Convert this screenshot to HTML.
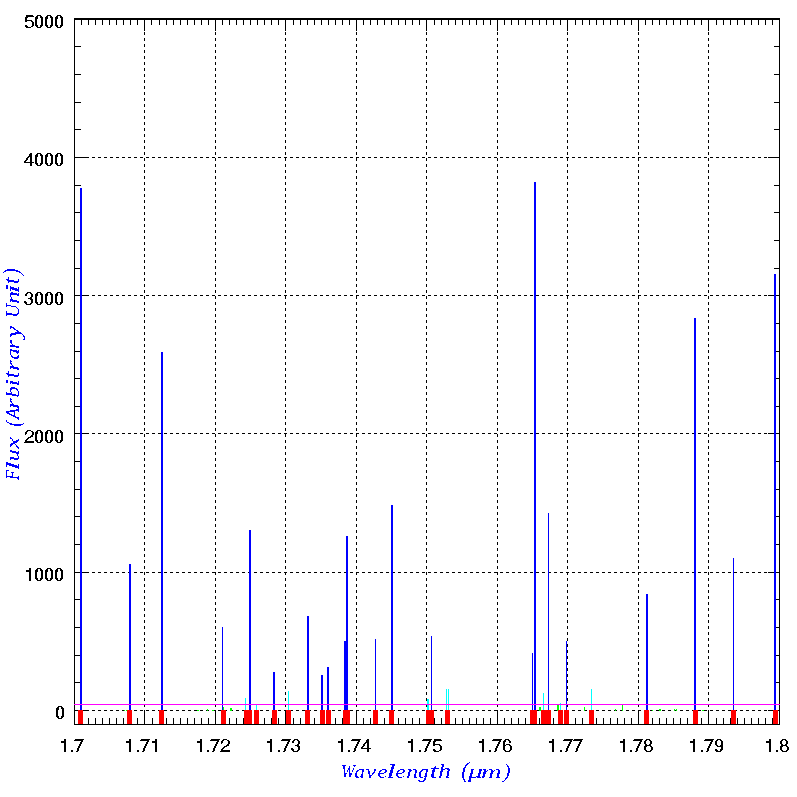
<!DOCTYPE html>
<html><head><meta charset="utf-8"><style>
html,body{margin:0;padding:0;background:#fff;}
svg{display:block;}
</style></head><body>
<svg width="797" height="797" viewBox="0 0 797 797">
<defs><filter id="bin" x="0" y="0" width="797" height="797" filterUnits="userSpaceOnUse"><feComponentTransfer><feFuncA type="discrete" tableValues="0 1 1 1"/></feComponentTransfer></filter>
<filter id="bin2" x="0" y="0" width="797" height="797" filterUnits="userSpaceOnUse"><feComponentTransfer><feFuncA type="discrete" tableValues="0 1"/></feComponentTransfer></filter></defs>
<rect x="0" y="0" width="797" height="797" fill="#fff"/>
<g shape-rendering="crispEdges">
<rect x="74" y="572" width="3" height="1" fill="#000"/><rect x="80" y="572" width="3" height="1" fill="#000"/><rect x="86" y="572" width="3" height="1" fill="#000"/><rect x="92" y="572" width="3" height="1" fill="#000"/><rect x="98" y="572" width="3" height="1" fill="#000"/><rect x="104" y="572" width="3" height="1" fill="#000"/><rect x="110" y="572" width="3" height="1" fill="#000"/><rect x="116" y="572" width="3" height="1" fill="#000"/><rect x="122" y="572" width="3" height="1" fill="#000"/><rect x="128" y="572" width="3" height="1" fill="#000"/><rect x="134" y="572" width="3" height="1" fill="#000"/><rect x="140" y="572" width="3" height="1" fill="#000"/><rect x="146" y="572" width="3" height="1" fill="#000"/><rect x="152" y="572" width="3" height="1" fill="#000"/><rect x="158" y="572" width="3" height="1" fill="#000"/><rect x="164" y="572" width="3" height="1" fill="#000"/><rect x="170" y="572" width="3" height="1" fill="#000"/><rect x="176" y="572" width="3" height="1" fill="#000"/><rect x="182" y="572" width="3" height="1" fill="#000"/><rect x="188" y="572" width="3" height="1" fill="#000"/><rect x="194" y="572" width="3" height="1" fill="#000"/><rect x="200" y="572" width="3" height="1" fill="#000"/><rect x="206" y="572" width="3" height="1" fill="#000"/><rect x="212" y="572" width="3" height="1" fill="#000"/><rect x="218" y="572" width="3" height="1" fill="#000"/><rect x="224" y="572" width="3" height="1" fill="#000"/><rect x="230" y="572" width="3" height="1" fill="#000"/><rect x="236" y="572" width="3" height="1" fill="#000"/><rect x="242" y="572" width="3" height="1" fill="#000"/><rect x="248" y="572" width="3" height="1" fill="#000"/><rect x="254" y="572" width="3" height="1" fill="#000"/><rect x="260" y="572" width="3" height="1" fill="#000"/><rect x="266" y="572" width="3" height="1" fill="#000"/><rect x="272" y="572" width="3" height="1" fill="#000"/><rect x="278" y="572" width="3" height="1" fill="#000"/><rect x="284" y="572" width="3" height="1" fill="#000"/><rect x="290" y="572" width="3" height="1" fill="#000"/><rect x="296" y="572" width="3" height="1" fill="#000"/><rect x="302" y="572" width="3" height="1" fill="#000"/><rect x="308" y="572" width="3" height="1" fill="#000"/><rect x="314" y="572" width="3" height="1" fill="#000"/><rect x="320" y="572" width="3" height="1" fill="#000"/><rect x="326" y="572" width="3" height="1" fill="#000"/><rect x="332" y="572" width="3" height="1" fill="#000"/><rect x="338" y="572" width="3" height="1" fill="#000"/><rect x="344" y="572" width="3" height="1" fill="#000"/><rect x="350" y="572" width="3" height="1" fill="#000"/><rect x="356" y="572" width="3" height="1" fill="#000"/><rect x="362" y="572" width="3" height="1" fill="#000"/><rect x="368" y="572" width="3" height="1" fill="#000"/><rect x="374" y="572" width="3" height="1" fill="#000"/><rect x="380" y="572" width="3" height="1" fill="#000"/><rect x="386" y="572" width="3" height="1" fill="#000"/><rect x="392" y="572" width="3" height="1" fill="#000"/><rect x="398" y="572" width="3" height="1" fill="#000"/><rect x="404" y="572" width="3" height="1" fill="#000"/><rect x="410" y="572" width="3" height="1" fill="#000"/><rect x="416" y="572" width="3" height="1" fill="#000"/><rect x="422" y="572" width="3" height="1" fill="#000"/><rect x="428" y="572" width="3" height="1" fill="#000"/><rect x="434" y="572" width="3" height="1" fill="#000"/><rect x="440" y="572" width="3" height="1" fill="#000"/><rect x="446" y="572" width="3" height="1" fill="#000"/><rect x="452" y="572" width="3" height="1" fill="#000"/><rect x="458" y="572" width="3" height="1" fill="#000"/><rect x="464" y="572" width="3" height="1" fill="#000"/><rect x="470" y="572" width="3" height="1" fill="#000"/><rect x="476" y="572" width="3" height="1" fill="#000"/><rect x="482" y="572" width="3" height="1" fill="#000"/><rect x="488" y="572" width="3" height="1" fill="#000"/><rect x="494" y="572" width="3" height="1" fill="#000"/><rect x="500" y="572" width="3" height="1" fill="#000"/><rect x="506" y="572" width="3" height="1" fill="#000"/><rect x="512" y="572" width="3" height="1" fill="#000"/><rect x="518" y="572" width="3" height="1" fill="#000"/><rect x="524" y="572" width="3" height="1" fill="#000"/><rect x="530" y="572" width="3" height="1" fill="#000"/><rect x="536" y="572" width="3" height="1" fill="#000"/><rect x="542" y="572" width="3" height="1" fill="#000"/><rect x="548" y="572" width="3" height="1" fill="#000"/><rect x="554" y="572" width="3" height="1" fill="#000"/><rect x="560" y="572" width="3" height="1" fill="#000"/><rect x="566" y="572" width="3" height="1" fill="#000"/><rect x="572" y="572" width="3" height="1" fill="#000"/><rect x="578" y="572" width="3" height="1" fill="#000"/><rect x="584" y="572" width="3" height="1" fill="#000"/><rect x="590" y="572" width="3" height="1" fill="#000"/><rect x="596" y="572" width="3" height="1" fill="#000"/><rect x="602" y="572" width="3" height="1" fill="#000"/><rect x="608" y="572" width="3" height="1" fill="#000"/><rect x="614" y="572" width="3" height="1" fill="#000"/><rect x="620" y="572" width="3" height="1" fill="#000"/><rect x="626" y="572" width="3" height="1" fill="#000"/><rect x="632" y="572" width="3" height="1" fill="#000"/><rect x="638" y="572" width="3" height="1" fill="#000"/><rect x="644" y="572" width="3" height="1" fill="#000"/><rect x="650" y="572" width="3" height="1" fill="#000"/><rect x="656" y="572" width="3" height="1" fill="#000"/><rect x="662" y="572" width="3" height="1" fill="#000"/><rect x="668" y="572" width="3" height="1" fill="#000"/><rect x="674" y="572" width="3" height="1" fill="#000"/><rect x="680" y="572" width="3" height="1" fill="#000"/><rect x="686" y="572" width="3" height="1" fill="#000"/><rect x="692" y="572" width="3" height="1" fill="#000"/><rect x="698" y="572" width="3" height="1" fill="#000"/><rect x="704" y="572" width="3" height="1" fill="#000"/><rect x="710" y="572" width="3" height="1" fill="#000"/><rect x="716" y="572" width="3" height="1" fill="#000"/><rect x="722" y="572" width="3" height="1" fill="#000"/><rect x="728" y="572" width="3" height="1" fill="#000"/><rect x="734" y="572" width="3" height="1" fill="#000"/><rect x="740" y="572" width="3" height="1" fill="#000"/><rect x="746" y="572" width="3" height="1" fill="#000"/><rect x="752" y="572" width="3" height="1" fill="#000"/><rect x="758" y="572" width="3" height="1" fill="#000"/><rect x="764" y="572" width="3" height="1" fill="#000"/><rect x="770" y="572" width="3" height="1" fill="#000"/><rect x="776" y="572" width="3" height="1" fill="#000"/><rect x="74" y="433" width="3" height="1" fill="#000"/><rect x="80" y="433" width="3" height="1" fill="#000"/><rect x="86" y="433" width="3" height="1" fill="#000"/><rect x="92" y="433" width="3" height="1" fill="#000"/><rect x="98" y="433" width="3" height="1" fill="#000"/><rect x="104" y="433" width="3" height="1" fill="#000"/><rect x="110" y="433" width="3" height="1" fill="#000"/><rect x="116" y="433" width="3" height="1" fill="#000"/><rect x="122" y="433" width="3" height="1" fill="#000"/><rect x="128" y="433" width="3" height="1" fill="#000"/><rect x="134" y="433" width="3" height="1" fill="#000"/><rect x="140" y="433" width="3" height="1" fill="#000"/><rect x="146" y="433" width="3" height="1" fill="#000"/><rect x="152" y="433" width="3" height="1" fill="#000"/><rect x="158" y="433" width="3" height="1" fill="#000"/><rect x="164" y="433" width="3" height="1" fill="#000"/><rect x="170" y="433" width="3" height="1" fill="#000"/><rect x="176" y="433" width="3" height="1" fill="#000"/><rect x="182" y="433" width="3" height="1" fill="#000"/><rect x="188" y="433" width="3" height="1" fill="#000"/><rect x="194" y="433" width="3" height="1" fill="#000"/><rect x="200" y="433" width="3" height="1" fill="#000"/><rect x="206" y="433" width="3" height="1" fill="#000"/><rect x="212" y="433" width="3" height="1" fill="#000"/><rect x="218" y="433" width="3" height="1" fill="#000"/><rect x="224" y="433" width="3" height="1" fill="#000"/><rect x="230" y="433" width="3" height="1" fill="#000"/><rect x="236" y="433" width="3" height="1" fill="#000"/><rect x="242" y="433" width="3" height="1" fill="#000"/><rect x="248" y="433" width="3" height="1" fill="#000"/><rect x="254" y="433" width="3" height="1" fill="#000"/><rect x="260" y="433" width="3" height="1" fill="#000"/><rect x="266" y="433" width="3" height="1" fill="#000"/><rect x="272" y="433" width="3" height="1" fill="#000"/><rect x="278" y="433" width="3" height="1" fill="#000"/><rect x="284" y="433" width="3" height="1" fill="#000"/><rect x="290" y="433" width="3" height="1" fill="#000"/><rect x="296" y="433" width="3" height="1" fill="#000"/><rect x="302" y="433" width="3" height="1" fill="#000"/><rect x="308" y="433" width="3" height="1" fill="#000"/><rect x="314" y="433" width="3" height="1" fill="#000"/><rect x="320" y="433" width="3" height="1" fill="#000"/><rect x="326" y="433" width="3" height="1" fill="#000"/><rect x="332" y="433" width="3" height="1" fill="#000"/><rect x="338" y="433" width="3" height="1" fill="#000"/><rect x="344" y="433" width="3" height="1" fill="#000"/><rect x="350" y="433" width="3" height="1" fill="#000"/><rect x="356" y="433" width="3" height="1" fill="#000"/><rect x="362" y="433" width="3" height="1" fill="#000"/><rect x="368" y="433" width="3" height="1" fill="#000"/><rect x="374" y="433" width="3" height="1" fill="#000"/><rect x="380" y="433" width="3" height="1" fill="#000"/><rect x="386" y="433" width="3" height="1" fill="#000"/><rect x="392" y="433" width="3" height="1" fill="#000"/><rect x="398" y="433" width="3" height="1" fill="#000"/><rect x="404" y="433" width="3" height="1" fill="#000"/><rect x="410" y="433" width="3" height="1" fill="#000"/><rect x="416" y="433" width="3" height="1" fill="#000"/><rect x="422" y="433" width="3" height="1" fill="#000"/><rect x="428" y="433" width="3" height="1" fill="#000"/><rect x="434" y="433" width="3" height="1" fill="#000"/><rect x="440" y="433" width="3" height="1" fill="#000"/><rect x="446" y="433" width="3" height="1" fill="#000"/><rect x="452" y="433" width="3" height="1" fill="#000"/><rect x="458" y="433" width="3" height="1" fill="#000"/><rect x="464" y="433" width="3" height="1" fill="#000"/><rect x="470" y="433" width="3" height="1" fill="#000"/><rect x="476" y="433" width="3" height="1" fill="#000"/><rect x="482" y="433" width="3" height="1" fill="#000"/><rect x="488" y="433" width="3" height="1" fill="#000"/><rect x="494" y="433" width="3" height="1" fill="#000"/><rect x="500" y="433" width="3" height="1" fill="#000"/><rect x="506" y="433" width="3" height="1" fill="#000"/><rect x="512" y="433" width="3" height="1" fill="#000"/><rect x="518" y="433" width="3" height="1" fill="#000"/><rect x="524" y="433" width="3" height="1" fill="#000"/><rect x="530" y="433" width="3" height="1" fill="#000"/><rect x="536" y="433" width="3" height="1" fill="#000"/><rect x="542" y="433" width="3" height="1" fill="#000"/><rect x="548" y="433" width="3" height="1" fill="#000"/><rect x="554" y="433" width="3" height="1" fill="#000"/><rect x="560" y="433" width="3" height="1" fill="#000"/><rect x="566" y="433" width="3" height="1" fill="#000"/><rect x="572" y="433" width="3" height="1" fill="#000"/><rect x="578" y="433" width="3" height="1" fill="#000"/><rect x="584" y="433" width="3" height="1" fill="#000"/><rect x="590" y="433" width="3" height="1" fill="#000"/><rect x="596" y="433" width="3" height="1" fill="#000"/><rect x="602" y="433" width="3" height="1" fill="#000"/><rect x="608" y="433" width="3" height="1" fill="#000"/><rect x="614" y="433" width="3" height="1" fill="#000"/><rect x="620" y="433" width="3" height="1" fill="#000"/><rect x="626" y="433" width="3" height="1" fill="#000"/><rect x="632" y="433" width="3" height="1" fill="#000"/><rect x="638" y="433" width="3" height="1" fill="#000"/><rect x="644" y="433" width="3" height="1" fill="#000"/><rect x="650" y="433" width="3" height="1" fill="#000"/><rect x="656" y="433" width="3" height="1" fill="#000"/><rect x="662" y="433" width="3" height="1" fill="#000"/><rect x="668" y="433" width="3" height="1" fill="#000"/><rect x="674" y="433" width="3" height="1" fill="#000"/><rect x="680" y="433" width="3" height="1" fill="#000"/><rect x="686" y="433" width="3" height="1" fill="#000"/><rect x="692" y="433" width="3" height="1" fill="#000"/><rect x="698" y="433" width="3" height="1" fill="#000"/><rect x="704" y="433" width="3" height="1" fill="#000"/><rect x="710" y="433" width="3" height="1" fill="#000"/><rect x="716" y="433" width="3" height="1" fill="#000"/><rect x="722" y="433" width="3" height="1" fill="#000"/><rect x="728" y="433" width="3" height="1" fill="#000"/><rect x="734" y="433" width="3" height="1" fill="#000"/><rect x="740" y="433" width="3" height="1" fill="#000"/><rect x="746" y="433" width="3" height="1" fill="#000"/><rect x="752" y="433" width="3" height="1" fill="#000"/><rect x="758" y="433" width="3" height="1" fill="#000"/><rect x="764" y="433" width="3" height="1" fill="#000"/><rect x="770" y="433" width="3" height="1" fill="#000"/><rect x="776" y="433" width="3" height="1" fill="#000"/><rect x="74" y="295" width="3" height="1" fill="#000"/><rect x="80" y="295" width="3" height="1" fill="#000"/><rect x="86" y="295" width="3" height="1" fill="#000"/><rect x="92" y="295" width="3" height="1" fill="#000"/><rect x="98" y="295" width="3" height="1" fill="#000"/><rect x="104" y="295" width="3" height="1" fill="#000"/><rect x="110" y="295" width="3" height="1" fill="#000"/><rect x="116" y="295" width="3" height="1" fill="#000"/><rect x="122" y="295" width="3" height="1" fill="#000"/><rect x="128" y="295" width="3" height="1" fill="#000"/><rect x="134" y="295" width="3" height="1" fill="#000"/><rect x="140" y="295" width="3" height="1" fill="#000"/><rect x="146" y="295" width="3" height="1" fill="#000"/><rect x="152" y="295" width="3" height="1" fill="#000"/><rect x="158" y="295" width="3" height="1" fill="#000"/><rect x="164" y="295" width="3" height="1" fill="#000"/><rect x="170" y="295" width="3" height="1" fill="#000"/><rect x="176" y="295" width="3" height="1" fill="#000"/><rect x="182" y="295" width="3" height="1" fill="#000"/><rect x="188" y="295" width="3" height="1" fill="#000"/><rect x="194" y="295" width="3" height="1" fill="#000"/><rect x="200" y="295" width="3" height="1" fill="#000"/><rect x="206" y="295" width="3" height="1" fill="#000"/><rect x="212" y="295" width="3" height="1" fill="#000"/><rect x="218" y="295" width="3" height="1" fill="#000"/><rect x="224" y="295" width="3" height="1" fill="#000"/><rect x="230" y="295" width="3" height="1" fill="#000"/><rect x="236" y="295" width="3" height="1" fill="#000"/><rect x="242" y="295" width="3" height="1" fill="#000"/><rect x="248" y="295" width="3" height="1" fill="#000"/><rect x="254" y="295" width="3" height="1" fill="#000"/><rect x="260" y="295" width="3" height="1" fill="#000"/><rect x="266" y="295" width="3" height="1" fill="#000"/><rect x="272" y="295" width="3" height="1" fill="#000"/><rect x="278" y="295" width="3" height="1" fill="#000"/><rect x="284" y="295" width="3" height="1" fill="#000"/><rect x="290" y="295" width="3" height="1" fill="#000"/><rect x="296" y="295" width="3" height="1" fill="#000"/><rect x="302" y="295" width="3" height="1" fill="#000"/><rect x="308" y="295" width="3" height="1" fill="#000"/><rect x="314" y="295" width="3" height="1" fill="#000"/><rect x="320" y="295" width="3" height="1" fill="#000"/><rect x="326" y="295" width="3" height="1" fill="#000"/><rect x="332" y="295" width="3" height="1" fill="#000"/><rect x="338" y="295" width="3" height="1" fill="#000"/><rect x="344" y="295" width="3" height="1" fill="#000"/><rect x="350" y="295" width="3" height="1" fill="#000"/><rect x="356" y="295" width="3" height="1" fill="#000"/><rect x="362" y="295" width="3" height="1" fill="#000"/><rect x="368" y="295" width="3" height="1" fill="#000"/><rect x="374" y="295" width="3" height="1" fill="#000"/><rect x="380" y="295" width="3" height="1" fill="#000"/><rect x="386" y="295" width="3" height="1" fill="#000"/><rect x="392" y="295" width="3" height="1" fill="#000"/><rect x="398" y="295" width="3" height="1" fill="#000"/><rect x="404" y="295" width="3" height="1" fill="#000"/><rect x="410" y="295" width="3" height="1" fill="#000"/><rect x="416" y="295" width="3" height="1" fill="#000"/><rect x="422" y="295" width="3" height="1" fill="#000"/><rect x="428" y="295" width="3" height="1" fill="#000"/><rect x="434" y="295" width="3" height="1" fill="#000"/><rect x="440" y="295" width="3" height="1" fill="#000"/><rect x="446" y="295" width="3" height="1" fill="#000"/><rect x="452" y="295" width="3" height="1" fill="#000"/><rect x="458" y="295" width="3" height="1" fill="#000"/><rect x="464" y="295" width="3" height="1" fill="#000"/><rect x="470" y="295" width="3" height="1" fill="#000"/><rect x="476" y="295" width="3" height="1" fill="#000"/><rect x="482" y="295" width="3" height="1" fill="#000"/><rect x="488" y="295" width="3" height="1" fill="#000"/><rect x="494" y="295" width="3" height="1" fill="#000"/><rect x="500" y="295" width="3" height="1" fill="#000"/><rect x="506" y="295" width="3" height="1" fill="#000"/><rect x="512" y="295" width="3" height="1" fill="#000"/><rect x="518" y="295" width="3" height="1" fill="#000"/><rect x="524" y="295" width="3" height="1" fill="#000"/><rect x="530" y="295" width="3" height="1" fill="#000"/><rect x="536" y="295" width="3" height="1" fill="#000"/><rect x="542" y="295" width="3" height="1" fill="#000"/><rect x="548" y="295" width="3" height="1" fill="#000"/><rect x="554" y="295" width="3" height="1" fill="#000"/><rect x="560" y="295" width="3" height="1" fill="#000"/><rect x="566" y="295" width="3" height="1" fill="#000"/><rect x="572" y="295" width="3" height="1" fill="#000"/><rect x="578" y="295" width="3" height="1" fill="#000"/><rect x="584" y="295" width="3" height="1" fill="#000"/><rect x="590" y="295" width="3" height="1" fill="#000"/><rect x="596" y="295" width="3" height="1" fill="#000"/><rect x="602" y="295" width="3" height="1" fill="#000"/><rect x="608" y="295" width="3" height="1" fill="#000"/><rect x="614" y="295" width="3" height="1" fill="#000"/><rect x="620" y="295" width="3" height="1" fill="#000"/><rect x="626" y="295" width="3" height="1" fill="#000"/><rect x="632" y="295" width="3" height="1" fill="#000"/><rect x="638" y="295" width="3" height="1" fill="#000"/><rect x="644" y="295" width="3" height="1" fill="#000"/><rect x="650" y="295" width="3" height="1" fill="#000"/><rect x="656" y="295" width="3" height="1" fill="#000"/><rect x="662" y="295" width="3" height="1" fill="#000"/><rect x="668" y="295" width="3" height="1" fill="#000"/><rect x="674" y="295" width="3" height="1" fill="#000"/><rect x="680" y="295" width="3" height="1" fill="#000"/><rect x="686" y="295" width="3" height="1" fill="#000"/><rect x="692" y="295" width="3" height="1" fill="#000"/><rect x="698" y="295" width="3" height="1" fill="#000"/><rect x="704" y="295" width="3" height="1" fill="#000"/><rect x="710" y="295" width="3" height="1" fill="#000"/><rect x="716" y="295" width="3" height="1" fill="#000"/><rect x="722" y="295" width="3" height="1" fill="#000"/><rect x="728" y="295" width="3" height="1" fill="#000"/><rect x="734" y="295" width="3" height="1" fill="#000"/><rect x="740" y="295" width="3" height="1" fill="#000"/><rect x="746" y="295" width="3" height="1" fill="#000"/><rect x="752" y="295" width="3" height="1" fill="#000"/><rect x="758" y="295" width="3" height="1" fill="#000"/><rect x="764" y="295" width="3" height="1" fill="#000"/><rect x="770" y="295" width="3" height="1" fill="#000"/><rect x="776" y="295" width="3" height="1" fill="#000"/><rect x="74" y="157" width="3" height="1" fill="#000"/><rect x="80" y="157" width="3" height="1" fill="#000"/><rect x="86" y="157" width="3" height="1" fill="#000"/><rect x="92" y="157" width="3" height="1" fill="#000"/><rect x="98" y="157" width="3" height="1" fill="#000"/><rect x="104" y="157" width="3" height="1" fill="#000"/><rect x="110" y="157" width="3" height="1" fill="#000"/><rect x="116" y="157" width="3" height="1" fill="#000"/><rect x="122" y="157" width="3" height="1" fill="#000"/><rect x="128" y="157" width="3" height="1" fill="#000"/><rect x="134" y="157" width="3" height="1" fill="#000"/><rect x="140" y="157" width="3" height="1" fill="#000"/><rect x="146" y="157" width="3" height="1" fill="#000"/><rect x="152" y="157" width="3" height="1" fill="#000"/><rect x="158" y="157" width="3" height="1" fill="#000"/><rect x="164" y="157" width="3" height="1" fill="#000"/><rect x="170" y="157" width="3" height="1" fill="#000"/><rect x="176" y="157" width="3" height="1" fill="#000"/><rect x="182" y="157" width="3" height="1" fill="#000"/><rect x="188" y="157" width="3" height="1" fill="#000"/><rect x="194" y="157" width="3" height="1" fill="#000"/><rect x="200" y="157" width="3" height="1" fill="#000"/><rect x="206" y="157" width="3" height="1" fill="#000"/><rect x="212" y="157" width="3" height="1" fill="#000"/><rect x="218" y="157" width="3" height="1" fill="#000"/><rect x="224" y="157" width="3" height="1" fill="#000"/><rect x="230" y="157" width="3" height="1" fill="#000"/><rect x="236" y="157" width="3" height="1" fill="#000"/><rect x="242" y="157" width="3" height="1" fill="#000"/><rect x="248" y="157" width="3" height="1" fill="#000"/><rect x="254" y="157" width="3" height="1" fill="#000"/><rect x="260" y="157" width="3" height="1" fill="#000"/><rect x="266" y="157" width="3" height="1" fill="#000"/><rect x="272" y="157" width="3" height="1" fill="#000"/><rect x="278" y="157" width="3" height="1" fill="#000"/><rect x="284" y="157" width="3" height="1" fill="#000"/><rect x="290" y="157" width="3" height="1" fill="#000"/><rect x="296" y="157" width="3" height="1" fill="#000"/><rect x="302" y="157" width="3" height="1" fill="#000"/><rect x="308" y="157" width="3" height="1" fill="#000"/><rect x="314" y="157" width="3" height="1" fill="#000"/><rect x="320" y="157" width="3" height="1" fill="#000"/><rect x="326" y="157" width="3" height="1" fill="#000"/><rect x="332" y="157" width="3" height="1" fill="#000"/><rect x="338" y="157" width="3" height="1" fill="#000"/><rect x="344" y="157" width="3" height="1" fill="#000"/><rect x="350" y="157" width="3" height="1" fill="#000"/><rect x="356" y="157" width="3" height="1" fill="#000"/><rect x="362" y="157" width="3" height="1" fill="#000"/><rect x="368" y="157" width="3" height="1" fill="#000"/><rect x="374" y="157" width="3" height="1" fill="#000"/><rect x="380" y="157" width="3" height="1" fill="#000"/><rect x="386" y="157" width="3" height="1" fill="#000"/><rect x="392" y="157" width="3" height="1" fill="#000"/><rect x="398" y="157" width="3" height="1" fill="#000"/><rect x="404" y="157" width="3" height="1" fill="#000"/><rect x="410" y="157" width="3" height="1" fill="#000"/><rect x="416" y="157" width="3" height="1" fill="#000"/><rect x="422" y="157" width="3" height="1" fill="#000"/><rect x="428" y="157" width="3" height="1" fill="#000"/><rect x="434" y="157" width="3" height="1" fill="#000"/><rect x="440" y="157" width="3" height="1" fill="#000"/><rect x="446" y="157" width="3" height="1" fill="#000"/><rect x="452" y="157" width="3" height="1" fill="#000"/><rect x="458" y="157" width="3" height="1" fill="#000"/><rect x="464" y="157" width="3" height="1" fill="#000"/><rect x="470" y="157" width="3" height="1" fill="#000"/><rect x="476" y="157" width="3" height="1" fill="#000"/><rect x="482" y="157" width="3" height="1" fill="#000"/><rect x="488" y="157" width="3" height="1" fill="#000"/><rect x="494" y="157" width="3" height="1" fill="#000"/><rect x="500" y="157" width="3" height="1" fill="#000"/><rect x="506" y="157" width="3" height="1" fill="#000"/><rect x="512" y="157" width="3" height="1" fill="#000"/><rect x="518" y="157" width="3" height="1" fill="#000"/><rect x="524" y="157" width="3" height="1" fill="#000"/><rect x="530" y="157" width="3" height="1" fill="#000"/><rect x="536" y="157" width="3" height="1" fill="#000"/><rect x="542" y="157" width="3" height="1" fill="#000"/><rect x="548" y="157" width="3" height="1" fill="#000"/><rect x="554" y="157" width="3" height="1" fill="#000"/><rect x="560" y="157" width="3" height="1" fill="#000"/><rect x="566" y="157" width="3" height="1" fill="#000"/><rect x="572" y="157" width="3" height="1" fill="#000"/><rect x="578" y="157" width="3" height="1" fill="#000"/><rect x="584" y="157" width="3" height="1" fill="#000"/><rect x="590" y="157" width="3" height="1" fill="#000"/><rect x="596" y="157" width="3" height="1" fill="#000"/><rect x="602" y="157" width="3" height="1" fill="#000"/><rect x="608" y="157" width="3" height="1" fill="#000"/><rect x="614" y="157" width="3" height="1" fill="#000"/><rect x="620" y="157" width="3" height="1" fill="#000"/><rect x="626" y="157" width="3" height="1" fill="#000"/><rect x="632" y="157" width="3" height="1" fill="#000"/><rect x="638" y="157" width="3" height="1" fill="#000"/><rect x="644" y="157" width="3" height="1" fill="#000"/><rect x="650" y="157" width="3" height="1" fill="#000"/><rect x="656" y="157" width="3" height="1" fill="#000"/><rect x="662" y="157" width="3" height="1" fill="#000"/><rect x="668" y="157" width="3" height="1" fill="#000"/><rect x="674" y="157" width="3" height="1" fill="#000"/><rect x="680" y="157" width="3" height="1" fill="#000"/><rect x="686" y="157" width="3" height="1" fill="#000"/><rect x="692" y="157" width="3" height="1" fill="#000"/><rect x="698" y="157" width="3" height="1" fill="#000"/><rect x="704" y="157" width="3" height="1" fill="#000"/><rect x="710" y="157" width="3" height="1" fill="#000"/><rect x="716" y="157" width="3" height="1" fill="#000"/><rect x="722" y="157" width="3" height="1" fill="#000"/><rect x="728" y="157" width="3" height="1" fill="#000"/><rect x="734" y="157" width="3" height="1" fill="#000"/><rect x="740" y="157" width="3" height="1" fill="#000"/><rect x="746" y="157" width="3" height="1" fill="#000"/><rect x="752" y="157" width="3" height="1" fill="#000"/><rect x="758" y="157" width="3" height="1" fill="#000"/><rect x="764" y="157" width="3" height="1" fill="#000"/><rect x="770" y="157" width="3" height="1" fill="#000"/><rect x="776" y="157" width="3" height="1" fill="#000"/><rect x="74" y="710" width="3" height="1" fill="#000"/><rect x="80" y="710" width="3" height="1" fill="#000"/><rect x="86" y="710" width="3" height="1" fill="#000"/><rect x="92" y="710" width="3" height="1" fill="#000"/><rect x="98" y="710" width="3" height="1" fill="#000"/><rect x="104" y="710" width="3" height="1" fill="#000"/><rect x="110" y="710" width="3" height="1" fill="#000"/><rect x="116" y="710" width="3" height="1" fill="#000"/><rect x="122" y="710" width="3" height="1" fill="#000"/><rect x="128" y="710" width="3" height="1" fill="#000"/><rect x="134" y="710" width="3" height="1" fill="#000"/><rect x="140" y="710" width="3" height="1" fill="#000"/><rect x="146" y="710" width="3" height="1" fill="#000"/><rect x="152" y="710" width="3" height="1" fill="#000"/><rect x="158" y="710" width="3" height="1" fill="#000"/><rect x="164" y="710" width="3" height="1" fill="#000"/><rect x="170" y="710" width="3" height="1" fill="#000"/><rect x="176" y="710" width="3" height="1" fill="#000"/><rect x="182" y="710" width="3" height="1" fill="#000"/><rect x="188" y="710" width="3" height="1" fill="#000"/><rect x="194" y="710" width="3" height="1" fill="#000"/><rect x="200" y="710" width="3" height="1" fill="#000"/><rect x="206" y="710" width="3" height="1" fill="#000"/><rect x="212" y="710" width="3" height="1" fill="#000"/><rect x="218" y="710" width="3" height="1" fill="#000"/><rect x="224" y="710" width="3" height="1" fill="#000"/><rect x="230" y="710" width="3" height="1" fill="#000"/><rect x="236" y="710" width="3" height="1" fill="#000"/><rect x="242" y="710" width="3" height="1" fill="#000"/><rect x="248" y="710" width="3" height="1" fill="#000"/><rect x="254" y="710" width="3" height="1" fill="#000"/><rect x="260" y="710" width="3" height="1" fill="#000"/><rect x="266" y="710" width="3" height="1" fill="#000"/><rect x="272" y="710" width="3" height="1" fill="#000"/><rect x="278" y="710" width="3" height="1" fill="#000"/><rect x="284" y="710" width="3" height="1" fill="#000"/><rect x="290" y="710" width="3" height="1" fill="#000"/><rect x="296" y="710" width="3" height="1" fill="#000"/><rect x="302" y="710" width="3" height="1" fill="#000"/><rect x="308" y="710" width="3" height="1" fill="#000"/><rect x="314" y="710" width="3" height="1" fill="#000"/><rect x="320" y="710" width="3" height="1" fill="#000"/><rect x="326" y="710" width="3" height="1" fill="#000"/><rect x="332" y="710" width="3" height="1" fill="#000"/><rect x="338" y="710" width="3" height="1" fill="#000"/><rect x="344" y="710" width="3" height="1" fill="#000"/><rect x="350" y="710" width="3" height="1" fill="#000"/><rect x="356" y="710" width="3" height="1" fill="#000"/><rect x="362" y="710" width="3" height="1" fill="#000"/><rect x="368" y="710" width="3" height="1" fill="#000"/><rect x="374" y="710" width="3" height="1" fill="#000"/><rect x="380" y="710" width="3" height="1" fill="#000"/><rect x="386" y="710" width="3" height="1" fill="#000"/><rect x="392" y="710" width="3" height="1" fill="#000"/><rect x="398" y="710" width="3" height="1" fill="#000"/><rect x="404" y="710" width="3" height="1" fill="#000"/><rect x="410" y="710" width="3" height="1" fill="#000"/><rect x="416" y="710" width="3" height="1" fill="#000"/><rect x="422" y="710" width="3" height="1" fill="#000"/><rect x="428" y="710" width="3" height="1" fill="#000"/><rect x="434" y="710" width="3" height="1" fill="#000"/><rect x="440" y="710" width="3" height="1" fill="#000"/><rect x="446" y="710" width="3" height="1" fill="#000"/><rect x="452" y="710" width="3" height="1" fill="#000"/><rect x="458" y="710" width="3" height="1" fill="#000"/><rect x="464" y="710" width="3" height="1" fill="#000"/><rect x="470" y="710" width="3" height="1" fill="#000"/><rect x="476" y="710" width="3" height="1" fill="#000"/><rect x="482" y="710" width="3" height="1" fill="#000"/><rect x="488" y="710" width="3" height="1" fill="#000"/><rect x="494" y="710" width="3" height="1" fill="#000"/><rect x="500" y="710" width="3" height="1" fill="#000"/><rect x="506" y="710" width="3" height="1" fill="#000"/><rect x="512" y="710" width="3" height="1" fill="#000"/><rect x="518" y="710" width="3" height="1" fill="#000"/><rect x="524" y="710" width="3" height="1" fill="#000"/><rect x="530" y="710" width="3" height="1" fill="#000"/><rect x="536" y="710" width="3" height="1" fill="#000"/><rect x="542" y="710" width="3" height="1" fill="#000"/><rect x="548" y="710" width="3" height="1" fill="#000"/><rect x="554" y="710" width="3" height="1" fill="#000"/><rect x="560" y="710" width="3" height="1" fill="#000"/><rect x="566" y="710" width="3" height="1" fill="#000"/><rect x="572" y="710" width="3" height="1" fill="#000"/><rect x="578" y="710" width="3" height="1" fill="#000"/><rect x="584" y="710" width="3" height="1" fill="#000"/><rect x="590" y="710" width="3" height="1" fill="#000"/><rect x="596" y="710" width="3" height="1" fill="#000"/><rect x="602" y="710" width="3" height="1" fill="#000"/><rect x="608" y="710" width="3" height="1" fill="#000"/><rect x="614" y="710" width="3" height="1" fill="#000"/><rect x="620" y="710" width="3" height="1" fill="#000"/><rect x="626" y="710" width="3" height="1" fill="#000"/><rect x="632" y="710" width="3" height="1" fill="#000"/><rect x="638" y="710" width="3" height="1" fill="#000"/><rect x="644" y="710" width="3" height="1" fill="#000"/><rect x="650" y="710" width="3" height="1" fill="#000"/><rect x="656" y="710" width="3" height="1" fill="#000"/><rect x="662" y="710" width="3" height="1" fill="#000"/><rect x="668" y="710" width="3" height="1" fill="#000"/><rect x="674" y="710" width="3" height="1" fill="#000"/><rect x="680" y="710" width="3" height="1" fill="#000"/><rect x="686" y="710" width="3" height="1" fill="#000"/><rect x="692" y="710" width="3" height="1" fill="#000"/><rect x="698" y="710" width="3" height="1" fill="#000"/><rect x="704" y="710" width="3" height="1" fill="#000"/><rect x="710" y="710" width="3" height="1" fill="#000"/><rect x="716" y="710" width="3" height="1" fill="#000"/><rect x="722" y="710" width="3" height="1" fill="#000"/><rect x="728" y="710" width="3" height="1" fill="#000"/><rect x="734" y="710" width="3" height="1" fill="#000"/><rect x="740" y="710" width="3" height="1" fill="#000"/><rect x="746" y="710" width="3" height="1" fill="#000"/><rect x="752" y="710" width="3" height="1" fill="#000"/><rect x="758" y="710" width="3" height="1" fill="#000"/><rect x="764" y="710" width="3" height="1" fill="#000"/><rect x="770" y="710" width="3" height="1" fill="#000"/><rect x="776" y="710" width="3" height="1" fill="#000"/><rect x="144" y="20" width="1" height="3" fill="#000"/><rect x="144" y="26" width="1" height="3" fill="#000"/><rect x="144" y="32" width="1" height="3" fill="#000"/><rect x="144" y="38" width="1" height="3" fill="#000"/><rect x="144" y="44" width="1" height="3" fill="#000"/><rect x="144" y="50" width="1" height="3" fill="#000"/><rect x="144" y="56" width="1" height="3" fill="#000"/><rect x="144" y="62" width="1" height="3" fill="#000"/><rect x="144" y="68" width="1" height="3" fill="#000"/><rect x="144" y="74" width="1" height="3" fill="#000"/><rect x="144" y="80" width="1" height="3" fill="#000"/><rect x="144" y="86" width="1" height="3" fill="#000"/><rect x="144" y="92" width="1" height="3" fill="#000"/><rect x="144" y="98" width="1" height="3" fill="#000"/><rect x="144" y="104" width="1" height="3" fill="#000"/><rect x="144" y="110" width="1" height="3" fill="#000"/><rect x="144" y="116" width="1" height="3" fill="#000"/><rect x="144" y="122" width="1" height="3" fill="#000"/><rect x="144" y="128" width="1" height="3" fill="#000"/><rect x="144" y="134" width="1" height="3" fill="#000"/><rect x="144" y="140" width="1" height="3" fill="#000"/><rect x="144" y="146" width="1" height="3" fill="#000"/><rect x="144" y="152" width="1" height="3" fill="#000"/><rect x="144" y="158" width="1" height="3" fill="#000"/><rect x="144" y="164" width="1" height="3" fill="#000"/><rect x="144" y="170" width="1" height="3" fill="#000"/><rect x="144" y="176" width="1" height="3" fill="#000"/><rect x="144" y="182" width="1" height="3" fill="#000"/><rect x="144" y="188" width="1" height="3" fill="#000"/><rect x="144" y="194" width="1" height="3" fill="#000"/><rect x="144" y="200" width="1" height="3" fill="#000"/><rect x="144" y="206" width="1" height="3" fill="#000"/><rect x="144" y="212" width="1" height="3" fill="#000"/><rect x="144" y="218" width="1" height="3" fill="#000"/><rect x="144" y="224" width="1" height="3" fill="#000"/><rect x="144" y="230" width="1" height="3" fill="#000"/><rect x="144" y="236" width="1" height="3" fill="#000"/><rect x="144" y="242" width="1" height="3" fill="#000"/><rect x="144" y="248" width="1" height="3" fill="#000"/><rect x="144" y="254" width="1" height="3" fill="#000"/><rect x="144" y="260" width="1" height="3" fill="#000"/><rect x="144" y="266" width="1" height="3" fill="#000"/><rect x="144" y="272" width="1" height="3" fill="#000"/><rect x="144" y="278" width="1" height="3" fill="#000"/><rect x="144" y="284" width="1" height="3" fill="#000"/><rect x="144" y="290" width="1" height="3" fill="#000"/><rect x="144" y="296" width="1" height="3" fill="#000"/><rect x="144" y="302" width="1" height="3" fill="#000"/><rect x="144" y="308" width="1" height="3" fill="#000"/><rect x="144" y="314" width="1" height="3" fill="#000"/><rect x="144" y="320" width="1" height="3" fill="#000"/><rect x="144" y="326" width="1" height="3" fill="#000"/><rect x="144" y="332" width="1" height="3" fill="#000"/><rect x="144" y="338" width="1" height="3" fill="#000"/><rect x="144" y="344" width="1" height="3" fill="#000"/><rect x="144" y="350" width="1" height="3" fill="#000"/><rect x="144" y="356" width="1" height="3" fill="#000"/><rect x="144" y="362" width="1" height="3" fill="#000"/><rect x="144" y="368" width="1" height="3" fill="#000"/><rect x="144" y="374" width="1" height="3" fill="#000"/><rect x="144" y="380" width="1" height="3" fill="#000"/><rect x="144" y="386" width="1" height="3" fill="#000"/><rect x="144" y="392" width="1" height="3" fill="#000"/><rect x="144" y="398" width="1" height="3" fill="#000"/><rect x="144" y="404" width="1" height="3" fill="#000"/><rect x="144" y="410" width="1" height="3" fill="#000"/><rect x="144" y="416" width="1" height="3" fill="#000"/><rect x="144" y="422" width="1" height="3" fill="#000"/><rect x="144" y="428" width="1" height="3" fill="#000"/><rect x="144" y="434" width="1" height="3" fill="#000"/><rect x="144" y="440" width="1" height="3" fill="#000"/><rect x="144" y="446" width="1" height="3" fill="#000"/><rect x="144" y="452" width="1" height="3" fill="#000"/><rect x="144" y="458" width="1" height="3" fill="#000"/><rect x="144" y="464" width="1" height="3" fill="#000"/><rect x="144" y="470" width="1" height="3" fill="#000"/><rect x="144" y="476" width="1" height="3" fill="#000"/><rect x="144" y="482" width="1" height="3" fill="#000"/><rect x="144" y="488" width="1" height="3" fill="#000"/><rect x="144" y="494" width="1" height="3" fill="#000"/><rect x="144" y="500" width="1" height="3" fill="#000"/><rect x="144" y="506" width="1" height="3" fill="#000"/><rect x="144" y="512" width="1" height="3" fill="#000"/><rect x="144" y="518" width="1" height="3" fill="#000"/><rect x="144" y="524" width="1" height="3" fill="#000"/><rect x="144" y="530" width="1" height="3" fill="#000"/><rect x="144" y="536" width="1" height="3" fill="#000"/><rect x="144" y="542" width="1" height="3" fill="#000"/><rect x="144" y="548" width="1" height="3" fill="#000"/><rect x="144" y="554" width="1" height="3" fill="#000"/><rect x="144" y="560" width="1" height="3" fill="#000"/><rect x="144" y="566" width="1" height="3" fill="#000"/><rect x="144" y="572" width="1" height="3" fill="#000"/><rect x="144" y="578" width="1" height="3" fill="#000"/><rect x="144" y="584" width="1" height="3" fill="#000"/><rect x="144" y="590" width="1" height="3" fill="#000"/><rect x="144" y="596" width="1" height="3" fill="#000"/><rect x="144" y="602" width="1" height="3" fill="#000"/><rect x="144" y="608" width="1" height="3" fill="#000"/><rect x="144" y="614" width="1" height="3" fill="#000"/><rect x="144" y="620" width="1" height="3" fill="#000"/><rect x="144" y="626" width="1" height="3" fill="#000"/><rect x="144" y="632" width="1" height="3" fill="#000"/><rect x="144" y="638" width="1" height="3" fill="#000"/><rect x="144" y="644" width="1" height="3" fill="#000"/><rect x="144" y="650" width="1" height="3" fill="#000"/><rect x="144" y="656" width="1" height="3" fill="#000"/><rect x="144" y="662" width="1" height="3" fill="#000"/><rect x="144" y="668" width="1" height="3" fill="#000"/><rect x="144" y="674" width="1" height="3" fill="#000"/><rect x="144" y="680" width="1" height="3" fill="#000"/><rect x="144" y="686" width="1" height="3" fill="#000"/><rect x="144" y="692" width="1" height="3" fill="#000"/><rect x="144" y="698" width="1" height="3" fill="#000"/><rect x="144" y="704" width="1" height="3" fill="#000"/><rect x="144" y="710" width="1" height="3" fill="#000"/><rect x="144" y="716" width="1" height="3" fill="#000"/><rect x="144" y="722" width="1" height="3" fill="#000"/><rect x="215" y="20" width="1" height="3" fill="#000"/><rect x="215" y="26" width="1" height="3" fill="#000"/><rect x="215" y="32" width="1" height="3" fill="#000"/><rect x="215" y="38" width="1" height="3" fill="#000"/><rect x="215" y="44" width="1" height="3" fill="#000"/><rect x="215" y="50" width="1" height="3" fill="#000"/><rect x="215" y="56" width="1" height="3" fill="#000"/><rect x="215" y="62" width="1" height="3" fill="#000"/><rect x="215" y="68" width="1" height="3" fill="#000"/><rect x="215" y="74" width="1" height="3" fill="#000"/><rect x="215" y="80" width="1" height="3" fill="#000"/><rect x="215" y="86" width="1" height="3" fill="#000"/><rect x="215" y="92" width="1" height="3" fill="#000"/><rect x="215" y="98" width="1" height="3" fill="#000"/><rect x="215" y="104" width="1" height="3" fill="#000"/><rect x="215" y="110" width="1" height="3" fill="#000"/><rect x="215" y="116" width="1" height="3" fill="#000"/><rect x="215" y="122" width="1" height="3" fill="#000"/><rect x="215" y="128" width="1" height="3" fill="#000"/><rect x="215" y="134" width="1" height="3" fill="#000"/><rect x="215" y="140" width="1" height="3" fill="#000"/><rect x="215" y="146" width="1" height="3" fill="#000"/><rect x="215" y="152" width="1" height="3" fill="#000"/><rect x="215" y="158" width="1" height="3" fill="#000"/><rect x="215" y="164" width="1" height="3" fill="#000"/><rect x="215" y="170" width="1" height="3" fill="#000"/><rect x="215" y="176" width="1" height="3" fill="#000"/><rect x="215" y="182" width="1" height="3" fill="#000"/><rect x="215" y="188" width="1" height="3" fill="#000"/><rect x="215" y="194" width="1" height="3" fill="#000"/><rect x="215" y="200" width="1" height="3" fill="#000"/><rect x="215" y="206" width="1" height="3" fill="#000"/><rect x="215" y="212" width="1" height="3" fill="#000"/><rect x="215" y="218" width="1" height="3" fill="#000"/><rect x="215" y="224" width="1" height="3" fill="#000"/><rect x="215" y="230" width="1" height="3" fill="#000"/><rect x="215" y="236" width="1" height="3" fill="#000"/><rect x="215" y="242" width="1" height="3" fill="#000"/><rect x="215" y="248" width="1" height="3" fill="#000"/><rect x="215" y="254" width="1" height="3" fill="#000"/><rect x="215" y="260" width="1" height="3" fill="#000"/><rect x="215" y="266" width="1" height="3" fill="#000"/><rect x="215" y="272" width="1" height="3" fill="#000"/><rect x="215" y="278" width="1" height="3" fill="#000"/><rect x="215" y="284" width="1" height="3" fill="#000"/><rect x="215" y="290" width="1" height="3" fill="#000"/><rect x="215" y="296" width="1" height="3" fill="#000"/><rect x="215" y="302" width="1" height="3" fill="#000"/><rect x="215" y="308" width="1" height="3" fill="#000"/><rect x="215" y="314" width="1" height="3" fill="#000"/><rect x="215" y="320" width="1" height="3" fill="#000"/><rect x="215" y="326" width="1" height="3" fill="#000"/><rect x="215" y="332" width="1" height="3" fill="#000"/><rect x="215" y="338" width="1" height="3" fill="#000"/><rect x="215" y="344" width="1" height="3" fill="#000"/><rect x="215" y="350" width="1" height="3" fill="#000"/><rect x="215" y="356" width="1" height="3" fill="#000"/><rect x="215" y="362" width="1" height="3" fill="#000"/><rect x="215" y="368" width="1" height="3" fill="#000"/><rect x="215" y="374" width="1" height="3" fill="#000"/><rect x="215" y="380" width="1" height="3" fill="#000"/><rect x="215" y="386" width="1" height="3" fill="#000"/><rect x="215" y="392" width="1" height="3" fill="#000"/><rect x="215" y="398" width="1" height="3" fill="#000"/><rect x="215" y="404" width="1" height="3" fill="#000"/><rect x="215" y="410" width="1" height="3" fill="#000"/><rect x="215" y="416" width="1" height="3" fill="#000"/><rect x="215" y="422" width="1" height="3" fill="#000"/><rect x="215" y="428" width="1" height="3" fill="#000"/><rect x="215" y="434" width="1" height="3" fill="#000"/><rect x="215" y="440" width="1" height="3" fill="#000"/><rect x="215" y="446" width="1" height="3" fill="#000"/><rect x="215" y="452" width="1" height="3" fill="#000"/><rect x="215" y="458" width="1" height="3" fill="#000"/><rect x="215" y="464" width="1" height="3" fill="#000"/><rect x="215" y="470" width="1" height="3" fill="#000"/><rect x="215" y="476" width="1" height="3" fill="#000"/><rect x="215" y="482" width="1" height="3" fill="#000"/><rect x="215" y="488" width="1" height="3" fill="#000"/><rect x="215" y="494" width="1" height="3" fill="#000"/><rect x="215" y="500" width="1" height="3" fill="#000"/><rect x="215" y="506" width="1" height="3" fill="#000"/><rect x="215" y="512" width="1" height="3" fill="#000"/><rect x="215" y="518" width="1" height="3" fill="#000"/><rect x="215" y="524" width="1" height="3" fill="#000"/><rect x="215" y="530" width="1" height="3" fill="#000"/><rect x="215" y="536" width="1" height="3" fill="#000"/><rect x="215" y="542" width="1" height="3" fill="#000"/><rect x="215" y="548" width="1" height="3" fill="#000"/><rect x="215" y="554" width="1" height="3" fill="#000"/><rect x="215" y="560" width="1" height="3" fill="#000"/><rect x="215" y="566" width="1" height="3" fill="#000"/><rect x="215" y="572" width="1" height="3" fill="#000"/><rect x="215" y="578" width="1" height="3" fill="#000"/><rect x="215" y="584" width="1" height="3" fill="#000"/><rect x="215" y="590" width="1" height="3" fill="#000"/><rect x="215" y="596" width="1" height="3" fill="#000"/><rect x="215" y="602" width="1" height="3" fill="#000"/><rect x="215" y="608" width="1" height="3" fill="#000"/><rect x="215" y="614" width="1" height="3" fill="#000"/><rect x="215" y="620" width="1" height="3" fill="#000"/><rect x="215" y="626" width="1" height="3" fill="#000"/><rect x="215" y="632" width="1" height="3" fill="#000"/><rect x="215" y="638" width="1" height="3" fill="#000"/><rect x="215" y="644" width="1" height="3" fill="#000"/><rect x="215" y="650" width="1" height="3" fill="#000"/><rect x="215" y="656" width="1" height="3" fill="#000"/><rect x="215" y="662" width="1" height="3" fill="#000"/><rect x="215" y="668" width="1" height="3" fill="#000"/><rect x="215" y="674" width="1" height="3" fill="#000"/><rect x="215" y="680" width="1" height="3" fill="#000"/><rect x="215" y="686" width="1" height="3" fill="#000"/><rect x="215" y="692" width="1" height="3" fill="#000"/><rect x="215" y="698" width="1" height="3" fill="#000"/><rect x="215" y="704" width="1" height="3" fill="#000"/><rect x="215" y="710" width="1" height="3" fill="#000"/><rect x="215" y="716" width="1" height="3" fill="#000"/><rect x="215" y="722" width="1" height="3" fill="#000"/><rect x="285" y="20" width="1" height="3" fill="#000"/><rect x="285" y="26" width="1" height="3" fill="#000"/><rect x="285" y="32" width="1" height="3" fill="#000"/><rect x="285" y="38" width="1" height="3" fill="#000"/><rect x="285" y="44" width="1" height="3" fill="#000"/><rect x="285" y="50" width="1" height="3" fill="#000"/><rect x="285" y="56" width="1" height="3" fill="#000"/><rect x="285" y="62" width="1" height="3" fill="#000"/><rect x="285" y="68" width="1" height="3" fill="#000"/><rect x="285" y="74" width="1" height="3" fill="#000"/><rect x="285" y="80" width="1" height="3" fill="#000"/><rect x="285" y="86" width="1" height="3" fill="#000"/><rect x="285" y="92" width="1" height="3" fill="#000"/><rect x="285" y="98" width="1" height="3" fill="#000"/><rect x="285" y="104" width="1" height="3" fill="#000"/><rect x="285" y="110" width="1" height="3" fill="#000"/><rect x="285" y="116" width="1" height="3" fill="#000"/><rect x="285" y="122" width="1" height="3" fill="#000"/><rect x="285" y="128" width="1" height="3" fill="#000"/><rect x="285" y="134" width="1" height="3" fill="#000"/><rect x="285" y="140" width="1" height="3" fill="#000"/><rect x="285" y="146" width="1" height="3" fill="#000"/><rect x="285" y="152" width="1" height="3" fill="#000"/><rect x="285" y="158" width="1" height="3" fill="#000"/><rect x="285" y="164" width="1" height="3" fill="#000"/><rect x="285" y="170" width="1" height="3" fill="#000"/><rect x="285" y="176" width="1" height="3" fill="#000"/><rect x="285" y="182" width="1" height="3" fill="#000"/><rect x="285" y="188" width="1" height="3" fill="#000"/><rect x="285" y="194" width="1" height="3" fill="#000"/><rect x="285" y="200" width="1" height="3" fill="#000"/><rect x="285" y="206" width="1" height="3" fill="#000"/><rect x="285" y="212" width="1" height="3" fill="#000"/><rect x="285" y="218" width="1" height="3" fill="#000"/><rect x="285" y="224" width="1" height="3" fill="#000"/><rect x="285" y="230" width="1" height="3" fill="#000"/><rect x="285" y="236" width="1" height="3" fill="#000"/><rect x="285" y="242" width="1" height="3" fill="#000"/><rect x="285" y="248" width="1" height="3" fill="#000"/><rect x="285" y="254" width="1" height="3" fill="#000"/><rect x="285" y="260" width="1" height="3" fill="#000"/><rect x="285" y="266" width="1" height="3" fill="#000"/><rect x="285" y="272" width="1" height="3" fill="#000"/><rect x="285" y="278" width="1" height="3" fill="#000"/><rect x="285" y="284" width="1" height="3" fill="#000"/><rect x="285" y="290" width="1" height="3" fill="#000"/><rect x="285" y="296" width="1" height="3" fill="#000"/><rect x="285" y="302" width="1" height="3" fill="#000"/><rect x="285" y="308" width="1" height="3" fill="#000"/><rect x="285" y="314" width="1" height="3" fill="#000"/><rect x="285" y="320" width="1" height="3" fill="#000"/><rect x="285" y="326" width="1" height="3" fill="#000"/><rect x="285" y="332" width="1" height="3" fill="#000"/><rect x="285" y="338" width="1" height="3" fill="#000"/><rect x="285" y="344" width="1" height="3" fill="#000"/><rect x="285" y="350" width="1" height="3" fill="#000"/><rect x="285" y="356" width="1" height="3" fill="#000"/><rect x="285" y="362" width="1" height="3" fill="#000"/><rect x="285" y="368" width="1" height="3" fill="#000"/><rect x="285" y="374" width="1" height="3" fill="#000"/><rect x="285" y="380" width="1" height="3" fill="#000"/><rect x="285" y="386" width="1" height="3" fill="#000"/><rect x="285" y="392" width="1" height="3" fill="#000"/><rect x="285" y="398" width="1" height="3" fill="#000"/><rect x="285" y="404" width="1" height="3" fill="#000"/><rect x="285" y="410" width="1" height="3" fill="#000"/><rect x="285" y="416" width="1" height="3" fill="#000"/><rect x="285" y="422" width="1" height="3" fill="#000"/><rect x="285" y="428" width="1" height="3" fill="#000"/><rect x="285" y="434" width="1" height="3" fill="#000"/><rect x="285" y="440" width="1" height="3" fill="#000"/><rect x="285" y="446" width="1" height="3" fill="#000"/><rect x="285" y="452" width="1" height="3" fill="#000"/><rect x="285" y="458" width="1" height="3" fill="#000"/><rect x="285" y="464" width="1" height="3" fill="#000"/><rect x="285" y="470" width="1" height="3" fill="#000"/><rect x="285" y="476" width="1" height="3" fill="#000"/><rect x="285" y="482" width="1" height="3" fill="#000"/><rect x="285" y="488" width="1" height="3" fill="#000"/><rect x="285" y="494" width="1" height="3" fill="#000"/><rect x="285" y="500" width="1" height="3" fill="#000"/><rect x="285" y="506" width="1" height="3" fill="#000"/><rect x="285" y="512" width="1" height="3" fill="#000"/><rect x="285" y="518" width="1" height="3" fill="#000"/><rect x="285" y="524" width="1" height="3" fill="#000"/><rect x="285" y="530" width="1" height="3" fill="#000"/><rect x="285" y="536" width="1" height="3" fill="#000"/><rect x="285" y="542" width="1" height="3" fill="#000"/><rect x="285" y="548" width="1" height="3" fill="#000"/><rect x="285" y="554" width="1" height="3" fill="#000"/><rect x="285" y="560" width="1" height="3" fill="#000"/><rect x="285" y="566" width="1" height="3" fill="#000"/><rect x="285" y="572" width="1" height="3" fill="#000"/><rect x="285" y="578" width="1" height="3" fill="#000"/><rect x="285" y="584" width="1" height="3" fill="#000"/><rect x="285" y="590" width="1" height="3" fill="#000"/><rect x="285" y="596" width="1" height="3" fill="#000"/><rect x="285" y="602" width="1" height="3" fill="#000"/><rect x="285" y="608" width="1" height="3" fill="#000"/><rect x="285" y="614" width="1" height="3" fill="#000"/><rect x="285" y="620" width="1" height="3" fill="#000"/><rect x="285" y="626" width="1" height="3" fill="#000"/><rect x="285" y="632" width="1" height="3" fill="#000"/><rect x="285" y="638" width="1" height="3" fill="#000"/><rect x="285" y="644" width="1" height="3" fill="#000"/><rect x="285" y="650" width="1" height="3" fill="#000"/><rect x="285" y="656" width="1" height="3" fill="#000"/><rect x="285" y="662" width="1" height="3" fill="#000"/><rect x="285" y="668" width="1" height="3" fill="#000"/><rect x="285" y="674" width="1" height="3" fill="#000"/><rect x="285" y="680" width="1" height="3" fill="#000"/><rect x="285" y="686" width="1" height="3" fill="#000"/><rect x="285" y="692" width="1" height="3" fill="#000"/><rect x="285" y="698" width="1" height="3" fill="#000"/><rect x="285" y="704" width="1" height="3" fill="#000"/><rect x="285" y="710" width="1" height="3" fill="#000"/><rect x="285" y="716" width="1" height="3" fill="#000"/><rect x="285" y="722" width="1" height="3" fill="#000"/><rect x="356" y="20" width="1" height="3" fill="#000"/><rect x="356" y="26" width="1" height="3" fill="#000"/><rect x="356" y="32" width="1" height="3" fill="#000"/><rect x="356" y="38" width="1" height="3" fill="#000"/><rect x="356" y="44" width="1" height="3" fill="#000"/><rect x="356" y="50" width="1" height="3" fill="#000"/><rect x="356" y="56" width="1" height="3" fill="#000"/><rect x="356" y="62" width="1" height="3" fill="#000"/><rect x="356" y="68" width="1" height="3" fill="#000"/><rect x="356" y="74" width="1" height="3" fill="#000"/><rect x="356" y="80" width="1" height="3" fill="#000"/><rect x="356" y="86" width="1" height="3" fill="#000"/><rect x="356" y="92" width="1" height="3" fill="#000"/><rect x="356" y="98" width="1" height="3" fill="#000"/><rect x="356" y="104" width="1" height="3" fill="#000"/><rect x="356" y="110" width="1" height="3" fill="#000"/><rect x="356" y="116" width="1" height="3" fill="#000"/><rect x="356" y="122" width="1" height="3" fill="#000"/><rect x="356" y="128" width="1" height="3" fill="#000"/><rect x="356" y="134" width="1" height="3" fill="#000"/><rect x="356" y="140" width="1" height="3" fill="#000"/><rect x="356" y="146" width="1" height="3" fill="#000"/><rect x="356" y="152" width="1" height="3" fill="#000"/><rect x="356" y="158" width="1" height="3" fill="#000"/><rect x="356" y="164" width="1" height="3" fill="#000"/><rect x="356" y="170" width="1" height="3" fill="#000"/><rect x="356" y="176" width="1" height="3" fill="#000"/><rect x="356" y="182" width="1" height="3" fill="#000"/><rect x="356" y="188" width="1" height="3" fill="#000"/><rect x="356" y="194" width="1" height="3" fill="#000"/><rect x="356" y="200" width="1" height="3" fill="#000"/><rect x="356" y="206" width="1" height="3" fill="#000"/><rect x="356" y="212" width="1" height="3" fill="#000"/><rect x="356" y="218" width="1" height="3" fill="#000"/><rect x="356" y="224" width="1" height="3" fill="#000"/><rect x="356" y="230" width="1" height="3" fill="#000"/><rect x="356" y="236" width="1" height="3" fill="#000"/><rect x="356" y="242" width="1" height="3" fill="#000"/><rect x="356" y="248" width="1" height="3" fill="#000"/><rect x="356" y="254" width="1" height="3" fill="#000"/><rect x="356" y="260" width="1" height="3" fill="#000"/><rect x="356" y="266" width="1" height="3" fill="#000"/><rect x="356" y="272" width="1" height="3" fill="#000"/><rect x="356" y="278" width="1" height="3" fill="#000"/><rect x="356" y="284" width="1" height="3" fill="#000"/><rect x="356" y="290" width="1" height="3" fill="#000"/><rect x="356" y="296" width="1" height="3" fill="#000"/><rect x="356" y="302" width="1" height="3" fill="#000"/><rect x="356" y="308" width="1" height="3" fill="#000"/><rect x="356" y="314" width="1" height="3" fill="#000"/><rect x="356" y="320" width="1" height="3" fill="#000"/><rect x="356" y="326" width="1" height="3" fill="#000"/><rect x="356" y="332" width="1" height="3" fill="#000"/><rect x="356" y="338" width="1" height="3" fill="#000"/><rect x="356" y="344" width="1" height="3" fill="#000"/><rect x="356" y="350" width="1" height="3" fill="#000"/><rect x="356" y="356" width="1" height="3" fill="#000"/><rect x="356" y="362" width="1" height="3" fill="#000"/><rect x="356" y="368" width="1" height="3" fill="#000"/><rect x="356" y="374" width="1" height="3" fill="#000"/><rect x="356" y="380" width="1" height="3" fill="#000"/><rect x="356" y="386" width="1" height="3" fill="#000"/><rect x="356" y="392" width="1" height="3" fill="#000"/><rect x="356" y="398" width="1" height="3" fill="#000"/><rect x="356" y="404" width="1" height="3" fill="#000"/><rect x="356" y="410" width="1" height="3" fill="#000"/><rect x="356" y="416" width="1" height="3" fill="#000"/><rect x="356" y="422" width="1" height="3" fill="#000"/><rect x="356" y="428" width="1" height="3" fill="#000"/><rect x="356" y="434" width="1" height="3" fill="#000"/><rect x="356" y="440" width="1" height="3" fill="#000"/><rect x="356" y="446" width="1" height="3" fill="#000"/><rect x="356" y="452" width="1" height="3" fill="#000"/><rect x="356" y="458" width="1" height="3" fill="#000"/><rect x="356" y="464" width="1" height="3" fill="#000"/><rect x="356" y="470" width="1" height="3" fill="#000"/><rect x="356" y="476" width="1" height="3" fill="#000"/><rect x="356" y="482" width="1" height="3" fill="#000"/><rect x="356" y="488" width="1" height="3" fill="#000"/><rect x="356" y="494" width="1" height="3" fill="#000"/><rect x="356" y="500" width="1" height="3" fill="#000"/><rect x="356" y="506" width="1" height="3" fill="#000"/><rect x="356" y="512" width="1" height="3" fill="#000"/><rect x="356" y="518" width="1" height="3" fill="#000"/><rect x="356" y="524" width="1" height="3" fill="#000"/><rect x="356" y="530" width="1" height="3" fill="#000"/><rect x="356" y="536" width="1" height="3" fill="#000"/><rect x="356" y="542" width="1" height="3" fill="#000"/><rect x="356" y="548" width="1" height="3" fill="#000"/><rect x="356" y="554" width="1" height="3" fill="#000"/><rect x="356" y="560" width="1" height="3" fill="#000"/><rect x="356" y="566" width="1" height="3" fill="#000"/><rect x="356" y="572" width="1" height="3" fill="#000"/><rect x="356" y="578" width="1" height="3" fill="#000"/><rect x="356" y="584" width="1" height="3" fill="#000"/><rect x="356" y="590" width="1" height="3" fill="#000"/><rect x="356" y="596" width="1" height="3" fill="#000"/><rect x="356" y="602" width="1" height="3" fill="#000"/><rect x="356" y="608" width="1" height="3" fill="#000"/><rect x="356" y="614" width="1" height="3" fill="#000"/><rect x="356" y="620" width="1" height="3" fill="#000"/><rect x="356" y="626" width="1" height="3" fill="#000"/><rect x="356" y="632" width="1" height="3" fill="#000"/><rect x="356" y="638" width="1" height="3" fill="#000"/><rect x="356" y="644" width="1" height="3" fill="#000"/><rect x="356" y="650" width="1" height="3" fill="#000"/><rect x="356" y="656" width="1" height="3" fill="#000"/><rect x="356" y="662" width="1" height="3" fill="#000"/><rect x="356" y="668" width="1" height="3" fill="#000"/><rect x="356" y="674" width="1" height="3" fill="#000"/><rect x="356" y="680" width="1" height="3" fill="#000"/><rect x="356" y="686" width="1" height="3" fill="#000"/><rect x="356" y="692" width="1" height="3" fill="#000"/><rect x="356" y="698" width="1" height="3" fill="#000"/><rect x="356" y="704" width="1" height="3" fill="#000"/><rect x="356" y="710" width="1" height="3" fill="#000"/><rect x="356" y="716" width="1" height="3" fill="#000"/><rect x="356" y="722" width="1" height="3" fill="#000"/><rect x="426" y="20" width="1" height="3" fill="#000"/><rect x="426" y="26" width="1" height="3" fill="#000"/><rect x="426" y="32" width="1" height="3" fill="#000"/><rect x="426" y="38" width="1" height="3" fill="#000"/><rect x="426" y="44" width="1" height="3" fill="#000"/><rect x="426" y="50" width="1" height="3" fill="#000"/><rect x="426" y="56" width="1" height="3" fill="#000"/><rect x="426" y="62" width="1" height="3" fill="#000"/><rect x="426" y="68" width="1" height="3" fill="#000"/><rect x="426" y="74" width="1" height="3" fill="#000"/><rect x="426" y="80" width="1" height="3" fill="#000"/><rect x="426" y="86" width="1" height="3" fill="#000"/><rect x="426" y="92" width="1" height="3" fill="#000"/><rect x="426" y="98" width="1" height="3" fill="#000"/><rect x="426" y="104" width="1" height="3" fill="#000"/><rect x="426" y="110" width="1" height="3" fill="#000"/><rect x="426" y="116" width="1" height="3" fill="#000"/><rect x="426" y="122" width="1" height="3" fill="#000"/><rect x="426" y="128" width="1" height="3" fill="#000"/><rect x="426" y="134" width="1" height="3" fill="#000"/><rect x="426" y="140" width="1" height="3" fill="#000"/><rect x="426" y="146" width="1" height="3" fill="#000"/><rect x="426" y="152" width="1" height="3" fill="#000"/><rect x="426" y="158" width="1" height="3" fill="#000"/><rect x="426" y="164" width="1" height="3" fill="#000"/><rect x="426" y="170" width="1" height="3" fill="#000"/><rect x="426" y="176" width="1" height="3" fill="#000"/><rect x="426" y="182" width="1" height="3" fill="#000"/><rect x="426" y="188" width="1" height="3" fill="#000"/><rect x="426" y="194" width="1" height="3" fill="#000"/><rect x="426" y="200" width="1" height="3" fill="#000"/><rect x="426" y="206" width="1" height="3" fill="#000"/><rect x="426" y="212" width="1" height="3" fill="#000"/><rect x="426" y="218" width="1" height="3" fill="#000"/><rect x="426" y="224" width="1" height="3" fill="#000"/><rect x="426" y="230" width="1" height="3" fill="#000"/><rect x="426" y="236" width="1" height="3" fill="#000"/><rect x="426" y="242" width="1" height="3" fill="#000"/><rect x="426" y="248" width="1" height="3" fill="#000"/><rect x="426" y="254" width="1" height="3" fill="#000"/><rect x="426" y="260" width="1" height="3" fill="#000"/><rect x="426" y="266" width="1" height="3" fill="#000"/><rect x="426" y="272" width="1" height="3" fill="#000"/><rect x="426" y="278" width="1" height="3" fill="#000"/><rect x="426" y="284" width="1" height="3" fill="#000"/><rect x="426" y="290" width="1" height="3" fill="#000"/><rect x="426" y="296" width="1" height="3" fill="#000"/><rect x="426" y="302" width="1" height="3" fill="#000"/><rect x="426" y="308" width="1" height="3" fill="#000"/><rect x="426" y="314" width="1" height="3" fill="#000"/><rect x="426" y="320" width="1" height="3" fill="#000"/><rect x="426" y="326" width="1" height="3" fill="#000"/><rect x="426" y="332" width="1" height="3" fill="#000"/><rect x="426" y="338" width="1" height="3" fill="#000"/><rect x="426" y="344" width="1" height="3" fill="#000"/><rect x="426" y="350" width="1" height="3" fill="#000"/><rect x="426" y="356" width="1" height="3" fill="#000"/><rect x="426" y="362" width="1" height="3" fill="#000"/><rect x="426" y="368" width="1" height="3" fill="#000"/><rect x="426" y="374" width="1" height="3" fill="#000"/><rect x="426" y="380" width="1" height="3" fill="#000"/><rect x="426" y="386" width="1" height="3" fill="#000"/><rect x="426" y="392" width="1" height="3" fill="#000"/><rect x="426" y="398" width="1" height="3" fill="#000"/><rect x="426" y="404" width="1" height="3" fill="#000"/><rect x="426" y="410" width="1" height="3" fill="#000"/><rect x="426" y="416" width="1" height="3" fill="#000"/><rect x="426" y="422" width="1" height="3" fill="#000"/><rect x="426" y="428" width="1" height="3" fill="#000"/><rect x="426" y="434" width="1" height="3" fill="#000"/><rect x="426" y="440" width="1" height="3" fill="#000"/><rect x="426" y="446" width="1" height="3" fill="#000"/><rect x="426" y="452" width="1" height="3" fill="#000"/><rect x="426" y="458" width="1" height="3" fill="#000"/><rect x="426" y="464" width="1" height="3" fill="#000"/><rect x="426" y="470" width="1" height="3" fill="#000"/><rect x="426" y="476" width="1" height="3" fill="#000"/><rect x="426" y="482" width="1" height="3" fill="#000"/><rect x="426" y="488" width="1" height="3" fill="#000"/><rect x="426" y="494" width="1" height="3" fill="#000"/><rect x="426" y="500" width="1" height="3" fill="#000"/><rect x="426" y="506" width="1" height="3" fill="#000"/><rect x="426" y="512" width="1" height="3" fill="#000"/><rect x="426" y="518" width="1" height="3" fill="#000"/><rect x="426" y="524" width="1" height="3" fill="#000"/><rect x="426" y="530" width="1" height="3" fill="#000"/><rect x="426" y="536" width="1" height="3" fill="#000"/><rect x="426" y="542" width="1" height="3" fill="#000"/><rect x="426" y="548" width="1" height="3" fill="#000"/><rect x="426" y="554" width="1" height="3" fill="#000"/><rect x="426" y="560" width="1" height="3" fill="#000"/><rect x="426" y="566" width="1" height="3" fill="#000"/><rect x="426" y="572" width="1" height="3" fill="#000"/><rect x="426" y="578" width="1" height="3" fill="#000"/><rect x="426" y="584" width="1" height="3" fill="#000"/><rect x="426" y="590" width="1" height="3" fill="#000"/><rect x="426" y="596" width="1" height="3" fill="#000"/><rect x="426" y="602" width="1" height="3" fill="#000"/><rect x="426" y="608" width="1" height="3" fill="#000"/><rect x="426" y="614" width="1" height="3" fill="#000"/><rect x="426" y="620" width="1" height="3" fill="#000"/><rect x="426" y="626" width="1" height="3" fill="#000"/><rect x="426" y="632" width="1" height="3" fill="#000"/><rect x="426" y="638" width="1" height="3" fill="#000"/><rect x="426" y="644" width="1" height="3" fill="#000"/><rect x="426" y="650" width="1" height="3" fill="#000"/><rect x="426" y="656" width="1" height="3" fill="#000"/><rect x="426" y="662" width="1" height="3" fill="#000"/><rect x="426" y="668" width="1" height="3" fill="#000"/><rect x="426" y="674" width="1" height="3" fill="#000"/><rect x="426" y="680" width="1" height="3" fill="#000"/><rect x="426" y="686" width="1" height="3" fill="#000"/><rect x="426" y="692" width="1" height="3" fill="#000"/><rect x="426" y="698" width="1" height="3" fill="#000"/><rect x="426" y="704" width="1" height="3" fill="#000"/><rect x="426" y="710" width="1" height="3" fill="#000"/><rect x="426" y="716" width="1" height="3" fill="#000"/><rect x="426" y="722" width="1" height="3" fill="#000"/><rect x="497" y="20" width="1" height="3" fill="#000"/><rect x="497" y="26" width="1" height="3" fill="#000"/><rect x="497" y="32" width="1" height="3" fill="#000"/><rect x="497" y="38" width="1" height="3" fill="#000"/><rect x="497" y="44" width="1" height="3" fill="#000"/><rect x="497" y="50" width="1" height="3" fill="#000"/><rect x="497" y="56" width="1" height="3" fill="#000"/><rect x="497" y="62" width="1" height="3" fill="#000"/><rect x="497" y="68" width="1" height="3" fill="#000"/><rect x="497" y="74" width="1" height="3" fill="#000"/><rect x="497" y="80" width="1" height="3" fill="#000"/><rect x="497" y="86" width="1" height="3" fill="#000"/><rect x="497" y="92" width="1" height="3" fill="#000"/><rect x="497" y="98" width="1" height="3" fill="#000"/><rect x="497" y="104" width="1" height="3" fill="#000"/><rect x="497" y="110" width="1" height="3" fill="#000"/><rect x="497" y="116" width="1" height="3" fill="#000"/><rect x="497" y="122" width="1" height="3" fill="#000"/><rect x="497" y="128" width="1" height="3" fill="#000"/><rect x="497" y="134" width="1" height="3" fill="#000"/><rect x="497" y="140" width="1" height="3" fill="#000"/><rect x="497" y="146" width="1" height="3" fill="#000"/><rect x="497" y="152" width="1" height="3" fill="#000"/><rect x="497" y="158" width="1" height="3" fill="#000"/><rect x="497" y="164" width="1" height="3" fill="#000"/><rect x="497" y="170" width="1" height="3" fill="#000"/><rect x="497" y="176" width="1" height="3" fill="#000"/><rect x="497" y="182" width="1" height="3" fill="#000"/><rect x="497" y="188" width="1" height="3" fill="#000"/><rect x="497" y="194" width="1" height="3" fill="#000"/><rect x="497" y="200" width="1" height="3" fill="#000"/><rect x="497" y="206" width="1" height="3" fill="#000"/><rect x="497" y="212" width="1" height="3" fill="#000"/><rect x="497" y="218" width="1" height="3" fill="#000"/><rect x="497" y="224" width="1" height="3" fill="#000"/><rect x="497" y="230" width="1" height="3" fill="#000"/><rect x="497" y="236" width="1" height="3" fill="#000"/><rect x="497" y="242" width="1" height="3" fill="#000"/><rect x="497" y="248" width="1" height="3" fill="#000"/><rect x="497" y="254" width="1" height="3" fill="#000"/><rect x="497" y="260" width="1" height="3" fill="#000"/><rect x="497" y="266" width="1" height="3" fill="#000"/><rect x="497" y="272" width="1" height="3" fill="#000"/><rect x="497" y="278" width="1" height="3" fill="#000"/><rect x="497" y="284" width="1" height="3" fill="#000"/><rect x="497" y="290" width="1" height="3" fill="#000"/><rect x="497" y="296" width="1" height="3" fill="#000"/><rect x="497" y="302" width="1" height="3" fill="#000"/><rect x="497" y="308" width="1" height="3" fill="#000"/><rect x="497" y="314" width="1" height="3" fill="#000"/><rect x="497" y="320" width="1" height="3" fill="#000"/><rect x="497" y="326" width="1" height="3" fill="#000"/><rect x="497" y="332" width="1" height="3" fill="#000"/><rect x="497" y="338" width="1" height="3" fill="#000"/><rect x="497" y="344" width="1" height="3" fill="#000"/><rect x="497" y="350" width="1" height="3" fill="#000"/><rect x="497" y="356" width="1" height="3" fill="#000"/><rect x="497" y="362" width="1" height="3" fill="#000"/><rect x="497" y="368" width="1" height="3" fill="#000"/><rect x="497" y="374" width="1" height="3" fill="#000"/><rect x="497" y="380" width="1" height="3" fill="#000"/><rect x="497" y="386" width="1" height="3" fill="#000"/><rect x="497" y="392" width="1" height="3" fill="#000"/><rect x="497" y="398" width="1" height="3" fill="#000"/><rect x="497" y="404" width="1" height="3" fill="#000"/><rect x="497" y="410" width="1" height="3" fill="#000"/><rect x="497" y="416" width="1" height="3" fill="#000"/><rect x="497" y="422" width="1" height="3" fill="#000"/><rect x="497" y="428" width="1" height="3" fill="#000"/><rect x="497" y="434" width="1" height="3" fill="#000"/><rect x="497" y="440" width="1" height="3" fill="#000"/><rect x="497" y="446" width="1" height="3" fill="#000"/><rect x="497" y="452" width="1" height="3" fill="#000"/><rect x="497" y="458" width="1" height="3" fill="#000"/><rect x="497" y="464" width="1" height="3" fill="#000"/><rect x="497" y="470" width="1" height="3" fill="#000"/><rect x="497" y="476" width="1" height="3" fill="#000"/><rect x="497" y="482" width="1" height="3" fill="#000"/><rect x="497" y="488" width="1" height="3" fill="#000"/><rect x="497" y="494" width="1" height="3" fill="#000"/><rect x="497" y="500" width="1" height="3" fill="#000"/><rect x="497" y="506" width="1" height="3" fill="#000"/><rect x="497" y="512" width="1" height="3" fill="#000"/><rect x="497" y="518" width="1" height="3" fill="#000"/><rect x="497" y="524" width="1" height="3" fill="#000"/><rect x="497" y="530" width="1" height="3" fill="#000"/><rect x="497" y="536" width="1" height="3" fill="#000"/><rect x="497" y="542" width="1" height="3" fill="#000"/><rect x="497" y="548" width="1" height="3" fill="#000"/><rect x="497" y="554" width="1" height="3" fill="#000"/><rect x="497" y="560" width="1" height="3" fill="#000"/><rect x="497" y="566" width="1" height="3" fill="#000"/><rect x="497" y="572" width="1" height="3" fill="#000"/><rect x="497" y="578" width="1" height="3" fill="#000"/><rect x="497" y="584" width="1" height="3" fill="#000"/><rect x="497" y="590" width="1" height="3" fill="#000"/><rect x="497" y="596" width="1" height="3" fill="#000"/><rect x="497" y="602" width="1" height="3" fill="#000"/><rect x="497" y="608" width="1" height="3" fill="#000"/><rect x="497" y="614" width="1" height="3" fill="#000"/><rect x="497" y="620" width="1" height="3" fill="#000"/><rect x="497" y="626" width="1" height="3" fill="#000"/><rect x="497" y="632" width="1" height="3" fill="#000"/><rect x="497" y="638" width="1" height="3" fill="#000"/><rect x="497" y="644" width="1" height="3" fill="#000"/><rect x="497" y="650" width="1" height="3" fill="#000"/><rect x="497" y="656" width="1" height="3" fill="#000"/><rect x="497" y="662" width="1" height="3" fill="#000"/><rect x="497" y="668" width="1" height="3" fill="#000"/><rect x="497" y="674" width="1" height="3" fill="#000"/><rect x="497" y="680" width="1" height="3" fill="#000"/><rect x="497" y="686" width="1" height="3" fill="#000"/><rect x="497" y="692" width="1" height="3" fill="#000"/><rect x="497" y="698" width="1" height="3" fill="#000"/><rect x="497" y="704" width="1" height="3" fill="#000"/><rect x="497" y="710" width="1" height="3" fill="#000"/><rect x="497" y="716" width="1" height="3" fill="#000"/><rect x="497" y="722" width="1" height="3" fill="#000"/><rect x="567" y="20" width="1" height="3" fill="#000"/><rect x="567" y="26" width="1" height="3" fill="#000"/><rect x="567" y="32" width="1" height="3" fill="#000"/><rect x="567" y="38" width="1" height="3" fill="#000"/><rect x="567" y="44" width="1" height="3" fill="#000"/><rect x="567" y="50" width="1" height="3" fill="#000"/><rect x="567" y="56" width="1" height="3" fill="#000"/><rect x="567" y="62" width="1" height="3" fill="#000"/><rect x="567" y="68" width="1" height="3" fill="#000"/><rect x="567" y="74" width="1" height="3" fill="#000"/><rect x="567" y="80" width="1" height="3" fill="#000"/><rect x="567" y="86" width="1" height="3" fill="#000"/><rect x="567" y="92" width="1" height="3" fill="#000"/><rect x="567" y="98" width="1" height="3" fill="#000"/><rect x="567" y="104" width="1" height="3" fill="#000"/><rect x="567" y="110" width="1" height="3" fill="#000"/><rect x="567" y="116" width="1" height="3" fill="#000"/><rect x="567" y="122" width="1" height="3" fill="#000"/><rect x="567" y="128" width="1" height="3" fill="#000"/><rect x="567" y="134" width="1" height="3" fill="#000"/><rect x="567" y="140" width="1" height="3" fill="#000"/><rect x="567" y="146" width="1" height="3" fill="#000"/><rect x="567" y="152" width="1" height="3" fill="#000"/><rect x="567" y="158" width="1" height="3" fill="#000"/><rect x="567" y="164" width="1" height="3" fill="#000"/><rect x="567" y="170" width="1" height="3" fill="#000"/><rect x="567" y="176" width="1" height="3" fill="#000"/><rect x="567" y="182" width="1" height="3" fill="#000"/><rect x="567" y="188" width="1" height="3" fill="#000"/><rect x="567" y="194" width="1" height="3" fill="#000"/><rect x="567" y="200" width="1" height="3" fill="#000"/><rect x="567" y="206" width="1" height="3" fill="#000"/><rect x="567" y="212" width="1" height="3" fill="#000"/><rect x="567" y="218" width="1" height="3" fill="#000"/><rect x="567" y="224" width="1" height="3" fill="#000"/><rect x="567" y="230" width="1" height="3" fill="#000"/><rect x="567" y="236" width="1" height="3" fill="#000"/><rect x="567" y="242" width="1" height="3" fill="#000"/><rect x="567" y="248" width="1" height="3" fill="#000"/><rect x="567" y="254" width="1" height="3" fill="#000"/><rect x="567" y="260" width="1" height="3" fill="#000"/><rect x="567" y="266" width="1" height="3" fill="#000"/><rect x="567" y="272" width="1" height="3" fill="#000"/><rect x="567" y="278" width="1" height="3" fill="#000"/><rect x="567" y="284" width="1" height="3" fill="#000"/><rect x="567" y="290" width="1" height="3" fill="#000"/><rect x="567" y="296" width="1" height="3" fill="#000"/><rect x="567" y="302" width="1" height="3" fill="#000"/><rect x="567" y="308" width="1" height="3" fill="#000"/><rect x="567" y="314" width="1" height="3" fill="#000"/><rect x="567" y="320" width="1" height="3" fill="#000"/><rect x="567" y="326" width="1" height="3" fill="#000"/><rect x="567" y="332" width="1" height="3" fill="#000"/><rect x="567" y="338" width="1" height="3" fill="#000"/><rect x="567" y="344" width="1" height="3" fill="#000"/><rect x="567" y="350" width="1" height="3" fill="#000"/><rect x="567" y="356" width="1" height="3" fill="#000"/><rect x="567" y="362" width="1" height="3" fill="#000"/><rect x="567" y="368" width="1" height="3" fill="#000"/><rect x="567" y="374" width="1" height="3" fill="#000"/><rect x="567" y="380" width="1" height="3" fill="#000"/><rect x="567" y="386" width="1" height="3" fill="#000"/><rect x="567" y="392" width="1" height="3" fill="#000"/><rect x="567" y="398" width="1" height="3" fill="#000"/><rect x="567" y="404" width="1" height="3" fill="#000"/><rect x="567" y="410" width="1" height="3" fill="#000"/><rect x="567" y="416" width="1" height="3" fill="#000"/><rect x="567" y="422" width="1" height="3" fill="#000"/><rect x="567" y="428" width="1" height="3" fill="#000"/><rect x="567" y="434" width="1" height="3" fill="#000"/><rect x="567" y="440" width="1" height="3" fill="#000"/><rect x="567" y="446" width="1" height="3" fill="#000"/><rect x="567" y="452" width="1" height="3" fill="#000"/><rect x="567" y="458" width="1" height="3" fill="#000"/><rect x="567" y="464" width="1" height="3" fill="#000"/><rect x="567" y="470" width="1" height="3" fill="#000"/><rect x="567" y="476" width="1" height="3" fill="#000"/><rect x="567" y="482" width="1" height="3" fill="#000"/><rect x="567" y="488" width="1" height="3" fill="#000"/><rect x="567" y="494" width="1" height="3" fill="#000"/><rect x="567" y="500" width="1" height="3" fill="#000"/><rect x="567" y="506" width="1" height="3" fill="#000"/><rect x="567" y="512" width="1" height="3" fill="#000"/><rect x="567" y="518" width="1" height="3" fill="#000"/><rect x="567" y="524" width="1" height="3" fill="#000"/><rect x="567" y="530" width="1" height="3" fill="#000"/><rect x="567" y="536" width="1" height="3" fill="#000"/><rect x="567" y="542" width="1" height="3" fill="#000"/><rect x="567" y="548" width="1" height="3" fill="#000"/><rect x="567" y="554" width="1" height="3" fill="#000"/><rect x="567" y="560" width="1" height="3" fill="#000"/><rect x="567" y="566" width="1" height="3" fill="#000"/><rect x="567" y="572" width="1" height="3" fill="#000"/><rect x="567" y="578" width="1" height="3" fill="#000"/><rect x="567" y="584" width="1" height="3" fill="#000"/><rect x="567" y="590" width="1" height="3" fill="#000"/><rect x="567" y="596" width="1" height="3" fill="#000"/><rect x="567" y="602" width="1" height="3" fill="#000"/><rect x="567" y="608" width="1" height="3" fill="#000"/><rect x="567" y="614" width="1" height="3" fill="#000"/><rect x="567" y="620" width="1" height="3" fill="#000"/><rect x="567" y="626" width="1" height="3" fill="#000"/><rect x="567" y="632" width="1" height="3" fill="#000"/><rect x="567" y="638" width="1" height="3" fill="#000"/><rect x="567" y="644" width="1" height="3" fill="#000"/><rect x="567" y="650" width="1" height="3" fill="#000"/><rect x="567" y="656" width="1" height="3" fill="#000"/><rect x="567" y="662" width="1" height="3" fill="#000"/><rect x="567" y="668" width="1" height="3" fill="#000"/><rect x="567" y="674" width="1" height="3" fill="#000"/><rect x="567" y="680" width="1" height="3" fill="#000"/><rect x="567" y="686" width="1" height="3" fill="#000"/><rect x="567" y="692" width="1" height="3" fill="#000"/><rect x="567" y="698" width="1" height="3" fill="#000"/><rect x="567" y="704" width="1" height="3" fill="#000"/><rect x="567" y="710" width="1" height="3" fill="#000"/><rect x="567" y="716" width="1" height="3" fill="#000"/><rect x="567" y="722" width="1" height="3" fill="#000"/><rect x="638" y="20" width="1" height="3" fill="#000"/><rect x="638" y="26" width="1" height="3" fill="#000"/><rect x="638" y="32" width="1" height="3" fill="#000"/><rect x="638" y="38" width="1" height="3" fill="#000"/><rect x="638" y="44" width="1" height="3" fill="#000"/><rect x="638" y="50" width="1" height="3" fill="#000"/><rect x="638" y="56" width="1" height="3" fill="#000"/><rect x="638" y="62" width="1" height="3" fill="#000"/><rect x="638" y="68" width="1" height="3" fill="#000"/><rect x="638" y="74" width="1" height="3" fill="#000"/><rect x="638" y="80" width="1" height="3" fill="#000"/><rect x="638" y="86" width="1" height="3" fill="#000"/><rect x="638" y="92" width="1" height="3" fill="#000"/><rect x="638" y="98" width="1" height="3" fill="#000"/><rect x="638" y="104" width="1" height="3" fill="#000"/><rect x="638" y="110" width="1" height="3" fill="#000"/><rect x="638" y="116" width="1" height="3" fill="#000"/><rect x="638" y="122" width="1" height="3" fill="#000"/><rect x="638" y="128" width="1" height="3" fill="#000"/><rect x="638" y="134" width="1" height="3" fill="#000"/><rect x="638" y="140" width="1" height="3" fill="#000"/><rect x="638" y="146" width="1" height="3" fill="#000"/><rect x="638" y="152" width="1" height="3" fill="#000"/><rect x="638" y="158" width="1" height="3" fill="#000"/><rect x="638" y="164" width="1" height="3" fill="#000"/><rect x="638" y="170" width="1" height="3" fill="#000"/><rect x="638" y="176" width="1" height="3" fill="#000"/><rect x="638" y="182" width="1" height="3" fill="#000"/><rect x="638" y="188" width="1" height="3" fill="#000"/><rect x="638" y="194" width="1" height="3" fill="#000"/><rect x="638" y="200" width="1" height="3" fill="#000"/><rect x="638" y="206" width="1" height="3" fill="#000"/><rect x="638" y="212" width="1" height="3" fill="#000"/><rect x="638" y="218" width="1" height="3" fill="#000"/><rect x="638" y="224" width="1" height="3" fill="#000"/><rect x="638" y="230" width="1" height="3" fill="#000"/><rect x="638" y="236" width="1" height="3" fill="#000"/><rect x="638" y="242" width="1" height="3" fill="#000"/><rect x="638" y="248" width="1" height="3" fill="#000"/><rect x="638" y="254" width="1" height="3" fill="#000"/><rect x="638" y="260" width="1" height="3" fill="#000"/><rect x="638" y="266" width="1" height="3" fill="#000"/><rect x="638" y="272" width="1" height="3" fill="#000"/><rect x="638" y="278" width="1" height="3" fill="#000"/><rect x="638" y="284" width="1" height="3" fill="#000"/><rect x="638" y="290" width="1" height="3" fill="#000"/><rect x="638" y="296" width="1" height="3" fill="#000"/><rect x="638" y="302" width="1" height="3" fill="#000"/><rect x="638" y="308" width="1" height="3" fill="#000"/><rect x="638" y="314" width="1" height="3" fill="#000"/><rect x="638" y="320" width="1" height="3" fill="#000"/><rect x="638" y="326" width="1" height="3" fill="#000"/><rect x="638" y="332" width="1" height="3" fill="#000"/><rect x="638" y="338" width="1" height="3" fill="#000"/><rect x="638" y="344" width="1" height="3" fill="#000"/><rect x="638" y="350" width="1" height="3" fill="#000"/><rect x="638" y="356" width="1" height="3" fill="#000"/><rect x="638" y="362" width="1" height="3" fill="#000"/><rect x="638" y="368" width="1" height="3" fill="#000"/><rect x="638" y="374" width="1" height="3" fill="#000"/><rect x="638" y="380" width="1" height="3" fill="#000"/><rect x="638" y="386" width="1" height="3" fill="#000"/><rect x="638" y="392" width="1" height="3" fill="#000"/><rect x="638" y="398" width="1" height="3" fill="#000"/><rect x="638" y="404" width="1" height="3" fill="#000"/><rect x="638" y="410" width="1" height="3" fill="#000"/><rect x="638" y="416" width="1" height="3" fill="#000"/><rect x="638" y="422" width="1" height="3" fill="#000"/><rect x="638" y="428" width="1" height="3" fill="#000"/><rect x="638" y="434" width="1" height="3" fill="#000"/><rect x="638" y="440" width="1" height="3" fill="#000"/><rect x="638" y="446" width="1" height="3" fill="#000"/><rect x="638" y="452" width="1" height="3" fill="#000"/><rect x="638" y="458" width="1" height="3" fill="#000"/><rect x="638" y="464" width="1" height="3" fill="#000"/><rect x="638" y="470" width="1" height="3" fill="#000"/><rect x="638" y="476" width="1" height="3" fill="#000"/><rect x="638" y="482" width="1" height="3" fill="#000"/><rect x="638" y="488" width="1" height="3" fill="#000"/><rect x="638" y="494" width="1" height="3" fill="#000"/><rect x="638" y="500" width="1" height="3" fill="#000"/><rect x="638" y="506" width="1" height="3" fill="#000"/><rect x="638" y="512" width="1" height="3" fill="#000"/><rect x="638" y="518" width="1" height="3" fill="#000"/><rect x="638" y="524" width="1" height="3" fill="#000"/><rect x="638" y="530" width="1" height="3" fill="#000"/><rect x="638" y="536" width="1" height="3" fill="#000"/><rect x="638" y="542" width="1" height="3" fill="#000"/><rect x="638" y="548" width="1" height="3" fill="#000"/><rect x="638" y="554" width="1" height="3" fill="#000"/><rect x="638" y="560" width="1" height="3" fill="#000"/><rect x="638" y="566" width="1" height="3" fill="#000"/><rect x="638" y="572" width="1" height="3" fill="#000"/><rect x="638" y="578" width="1" height="3" fill="#000"/><rect x="638" y="584" width="1" height="3" fill="#000"/><rect x="638" y="590" width="1" height="3" fill="#000"/><rect x="638" y="596" width="1" height="3" fill="#000"/><rect x="638" y="602" width="1" height="3" fill="#000"/><rect x="638" y="608" width="1" height="3" fill="#000"/><rect x="638" y="614" width="1" height="3" fill="#000"/><rect x="638" y="620" width="1" height="3" fill="#000"/><rect x="638" y="626" width="1" height="3" fill="#000"/><rect x="638" y="632" width="1" height="3" fill="#000"/><rect x="638" y="638" width="1" height="3" fill="#000"/><rect x="638" y="644" width="1" height="3" fill="#000"/><rect x="638" y="650" width="1" height="3" fill="#000"/><rect x="638" y="656" width="1" height="3" fill="#000"/><rect x="638" y="662" width="1" height="3" fill="#000"/><rect x="638" y="668" width="1" height="3" fill="#000"/><rect x="638" y="674" width="1" height="3" fill="#000"/><rect x="638" y="680" width="1" height="3" fill="#000"/><rect x="638" y="686" width="1" height="3" fill="#000"/><rect x="638" y="692" width="1" height="3" fill="#000"/><rect x="638" y="698" width="1" height="3" fill="#000"/><rect x="638" y="704" width="1" height="3" fill="#000"/><rect x="638" y="710" width="1" height="3" fill="#000"/><rect x="638" y="716" width="1" height="3" fill="#000"/><rect x="638" y="722" width="1" height="3" fill="#000"/><rect x="708" y="20" width="1" height="3" fill="#000"/><rect x="708" y="26" width="1" height="3" fill="#000"/><rect x="708" y="32" width="1" height="3" fill="#000"/><rect x="708" y="38" width="1" height="3" fill="#000"/><rect x="708" y="44" width="1" height="3" fill="#000"/><rect x="708" y="50" width="1" height="3" fill="#000"/><rect x="708" y="56" width="1" height="3" fill="#000"/><rect x="708" y="62" width="1" height="3" fill="#000"/><rect x="708" y="68" width="1" height="3" fill="#000"/><rect x="708" y="74" width="1" height="3" fill="#000"/><rect x="708" y="80" width="1" height="3" fill="#000"/><rect x="708" y="86" width="1" height="3" fill="#000"/><rect x="708" y="92" width="1" height="3" fill="#000"/><rect x="708" y="98" width="1" height="3" fill="#000"/><rect x="708" y="104" width="1" height="3" fill="#000"/><rect x="708" y="110" width="1" height="3" fill="#000"/><rect x="708" y="116" width="1" height="3" fill="#000"/><rect x="708" y="122" width="1" height="3" fill="#000"/><rect x="708" y="128" width="1" height="3" fill="#000"/><rect x="708" y="134" width="1" height="3" fill="#000"/><rect x="708" y="140" width="1" height="3" fill="#000"/><rect x="708" y="146" width="1" height="3" fill="#000"/><rect x="708" y="152" width="1" height="3" fill="#000"/><rect x="708" y="158" width="1" height="3" fill="#000"/><rect x="708" y="164" width="1" height="3" fill="#000"/><rect x="708" y="170" width="1" height="3" fill="#000"/><rect x="708" y="176" width="1" height="3" fill="#000"/><rect x="708" y="182" width="1" height="3" fill="#000"/><rect x="708" y="188" width="1" height="3" fill="#000"/><rect x="708" y="194" width="1" height="3" fill="#000"/><rect x="708" y="200" width="1" height="3" fill="#000"/><rect x="708" y="206" width="1" height="3" fill="#000"/><rect x="708" y="212" width="1" height="3" fill="#000"/><rect x="708" y="218" width="1" height="3" fill="#000"/><rect x="708" y="224" width="1" height="3" fill="#000"/><rect x="708" y="230" width="1" height="3" fill="#000"/><rect x="708" y="236" width="1" height="3" fill="#000"/><rect x="708" y="242" width="1" height="3" fill="#000"/><rect x="708" y="248" width="1" height="3" fill="#000"/><rect x="708" y="254" width="1" height="3" fill="#000"/><rect x="708" y="260" width="1" height="3" fill="#000"/><rect x="708" y="266" width="1" height="3" fill="#000"/><rect x="708" y="272" width="1" height="3" fill="#000"/><rect x="708" y="278" width="1" height="3" fill="#000"/><rect x="708" y="284" width="1" height="3" fill="#000"/><rect x="708" y="290" width="1" height="3" fill="#000"/><rect x="708" y="296" width="1" height="3" fill="#000"/><rect x="708" y="302" width="1" height="3" fill="#000"/><rect x="708" y="308" width="1" height="3" fill="#000"/><rect x="708" y="314" width="1" height="3" fill="#000"/><rect x="708" y="320" width="1" height="3" fill="#000"/><rect x="708" y="326" width="1" height="3" fill="#000"/><rect x="708" y="332" width="1" height="3" fill="#000"/><rect x="708" y="338" width="1" height="3" fill="#000"/><rect x="708" y="344" width="1" height="3" fill="#000"/><rect x="708" y="350" width="1" height="3" fill="#000"/><rect x="708" y="356" width="1" height="3" fill="#000"/><rect x="708" y="362" width="1" height="3" fill="#000"/><rect x="708" y="368" width="1" height="3" fill="#000"/><rect x="708" y="374" width="1" height="3" fill="#000"/><rect x="708" y="380" width="1" height="3" fill="#000"/><rect x="708" y="386" width="1" height="3" fill="#000"/><rect x="708" y="392" width="1" height="3" fill="#000"/><rect x="708" y="398" width="1" height="3" fill="#000"/><rect x="708" y="404" width="1" height="3" fill="#000"/><rect x="708" y="410" width="1" height="3" fill="#000"/><rect x="708" y="416" width="1" height="3" fill="#000"/><rect x="708" y="422" width="1" height="3" fill="#000"/><rect x="708" y="428" width="1" height="3" fill="#000"/><rect x="708" y="434" width="1" height="3" fill="#000"/><rect x="708" y="440" width="1" height="3" fill="#000"/><rect x="708" y="446" width="1" height="3" fill="#000"/><rect x="708" y="452" width="1" height="3" fill="#000"/><rect x="708" y="458" width="1" height="3" fill="#000"/><rect x="708" y="464" width="1" height="3" fill="#000"/><rect x="708" y="470" width="1" height="3" fill="#000"/><rect x="708" y="476" width="1" height="3" fill="#000"/><rect x="708" y="482" width="1" height="3" fill="#000"/><rect x="708" y="488" width="1" height="3" fill="#000"/><rect x="708" y="494" width="1" height="3" fill="#000"/><rect x="708" y="500" width="1" height="3" fill="#000"/><rect x="708" y="506" width="1" height="3" fill="#000"/><rect x="708" y="512" width="1" height="3" fill="#000"/><rect x="708" y="518" width="1" height="3" fill="#000"/><rect x="708" y="524" width="1" height="3" fill="#000"/><rect x="708" y="530" width="1" height="3" fill="#000"/><rect x="708" y="536" width="1" height="3" fill="#000"/><rect x="708" y="542" width="1" height="3" fill="#000"/><rect x="708" y="548" width="1" height="3" fill="#000"/><rect x="708" y="554" width="1" height="3" fill="#000"/><rect x="708" y="560" width="1" height="3" fill="#000"/><rect x="708" y="566" width="1" height="3" fill="#000"/><rect x="708" y="572" width="1" height="3" fill="#000"/><rect x="708" y="578" width="1" height="3" fill="#000"/><rect x="708" y="584" width="1" height="3" fill="#000"/><rect x="708" y="590" width="1" height="3" fill="#000"/><rect x="708" y="596" width="1" height="3" fill="#000"/><rect x="708" y="602" width="1" height="3" fill="#000"/><rect x="708" y="608" width="1" height="3" fill="#000"/><rect x="708" y="614" width="1" height="3" fill="#000"/><rect x="708" y="620" width="1" height="3" fill="#000"/><rect x="708" y="626" width="1" height="3" fill="#000"/><rect x="708" y="632" width="1" height="3" fill="#000"/><rect x="708" y="638" width="1" height="3" fill="#000"/><rect x="708" y="644" width="1" height="3" fill="#000"/><rect x="708" y="650" width="1" height="3" fill="#000"/><rect x="708" y="656" width="1" height="3" fill="#000"/><rect x="708" y="662" width="1" height="3" fill="#000"/><rect x="708" y="668" width="1" height="3" fill="#000"/><rect x="708" y="674" width="1" height="3" fill="#000"/><rect x="708" y="680" width="1" height="3" fill="#000"/><rect x="708" y="686" width="1" height="3" fill="#000"/><rect x="708" y="692" width="1" height="3" fill="#000"/><rect x="708" y="698" width="1" height="3" fill="#000"/><rect x="708" y="704" width="1" height="3" fill="#000"/><rect x="708" y="710" width="1" height="3" fill="#000"/><rect x="708" y="716" width="1" height="3" fill="#000"/><rect x="708" y="722" width="1" height="3" fill="#000"/><rect x="74" y="18" width="706" height="2" fill="#000"/><rect x="74" y="724" width="706" height="1" fill="#000"/><rect x="74" y="18" width="1" height="707" fill="#000"/><rect x="779" y="18" width="1" height="707" fill="#000"/><rect x="81" y="718" width="1" height="6" fill="#000"/><rect x="81" y="20" width="1" height="5" fill="#000"/><rect x="88" y="718" width="1" height="6" fill="#000"/><rect x="88" y="20" width="1" height="5" fill="#000"/><rect x="95" y="718" width="1" height="6" fill="#000"/><rect x="95" y="20" width="1" height="5" fill="#000"/><rect x="102" y="718" width="1" height="6" fill="#000"/><rect x="102" y="20" width="1" height="5" fill="#000"/><rect x="109" y="718" width="1" height="6" fill="#000"/><rect x="109" y="20" width="1" height="5" fill="#000"/><rect x="116" y="718" width="1" height="6" fill="#000"/><rect x="116" y="20" width="1" height="5" fill="#000"/><rect x="123" y="718" width="1" height="6" fill="#000"/><rect x="123" y="20" width="1" height="5" fill="#000"/><rect x="130" y="718" width="1" height="6" fill="#000"/><rect x="130" y="20" width="1" height="5" fill="#000"/><rect x="137" y="718" width="1" height="6" fill="#000"/><rect x="137" y="20" width="1" height="5" fill="#000"/><rect x="144" y="713" width="1" height="11" fill="#000"/><rect x="144" y="20" width="1" height="11" fill="#000"/><rect x="152" y="718" width="1" height="6" fill="#000"/><rect x="151" y="20" width="1" height="5" fill="#000"/><rect x="159" y="718" width="1" height="6" fill="#000"/><rect x="159" y="20" width="1" height="5" fill="#000"/><rect x="166" y="718" width="1" height="6" fill="#000"/><rect x="166" y="20" width="1" height="5" fill="#000"/><rect x="173" y="718" width="1" height="6" fill="#000"/><rect x="173" y="20" width="1" height="5" fill="#000"/><rect x="180" y="718" width="1" height="6" fill="#000"/><rect x="180" y="20" width="1" height="5" fill="#000"/><rect x="187" y="718" width="1" height="6" fill="#000"/><rect x="187" y="20" width="1" height="5" fill="#000"/><rect x="194" y="718" width="1" height="6" fill="#000"/><rect x="194" y="20" width="1" height="5" fill="#000"/><rect x="201" y="718" width="1" height="6" fill="#000"/><rect x="201" y="20" width="1" height="5" fill="#000"/><rect x="208" y="718" width="1" height="6" fill="#000"/><rect x="208" y="20" width="1" height="5" fill="#000"/><rect x="215" y="713" width="1" height="11" fill="#000"/><rect x="215" y="20" width="1" height="11" fill="#000"/><rect x="222" y="718" width="1" height="6" fill="#000"/><rect x="222" y="20" width="1" height="5" fill="#000"/><rect x="229" y="718" width="1" height="6" fill="#000"/><rect x="229" y="20" width="1" height="5" fill="#000"/><rect x="236" y="718" width="1" height="6" fill="#000"/><rect x="236" y="20" width="1" height="5" fill="#000"/><rect x="243" y="718" width="1" height="6" fill="#000"/><rect x="243" y="20" width="1" height="5" fill="#000"/><rect x="250" y="718" width="1" height="6" fill="#000"/><rect x="250" y="20" width="1" height="5" fill="#000"/><rect x="257" y="718" width="1" height="6" fill="#000"/><rect x="257" y="20" width="1" height="5" fill="#000"/><rect x="264" y="718" width="1" height="6" fill="#000"/><rect x="264" y="20" width="1" height="5" fill="#000"/><rect x="271" y="718" width="1" height="6" fill="#000"/><rect x="271" y="20" width="1" height="5" fill="#000"/><rect x="278" y="718" width="1" height="6" fill="#000"/><rect x="278" y="20" width="1" height="5" fill="#000"/><rect x="285" y="713" width="1" height="11" fill="#000"/><rect x="285" y="20" width="1" height="11" fill="#000"/><rect x="293" y="718" width="1" height="6" fill="#000"/><rect x="293" y="20" width="1" height="5" fill="#000"/><rect x="300" y="718" width="1" height="6" fill="#000"/><rect x="300" y="20" width="1" height="5" fill="#000"/><rect x="307" y="718" width="1" height="6" fill="#000"/><rect x="307" y="20" width="1" height="5" fill="#000"/><rect x="314" y="718" width="1" height="6" fill="#000"/><rect x="314" y="20" width="1" height="5" fill="#000"/><rect x="321" y="718" width="1" height="6" fill="#000"/><rect x="321" y="20" width="1" height="5" fill="#000"/><rect x="328" y="718" width="1" height="6" fill="#000"/><rect x="328" y="20" width="1" height="5" fill="#000"/><rect x="335" y="718" width="1" height="6" fill="#000"/><rect x="335" y="20" width="1" height="5" fill="#000"/><rect x="342" y="718" width="1" height="6" fill="#000"/><rect x="342" y="20" width="1" height="5" fill="#000"/><rect x="349" y="718" width="1" height="6" fill="#000"/><rect x="349" y="20" width="1" height="5" fill="#000"/><rect x="356" y="713" width="1" height="11" fill="#000"/><rect x="356" y="20" width="1" height="11" fill="#000"/><rect x="363" y="718" width="1" height="6" fill="#000"/><rect x="363" y="20" width="1" height="5" fill="#000"/><rect x="370" y="718" width="1" height="6" fill="#000"/><rect x="370" y="20" width="1" height="5" fill="#000"/><rect x="377" y="718" width="1" height="6" fill="#000"/><rect x="377" y="20" width="1" height="5" fill="#000"/><rect x="384" y="718" width="1" height="6" fill="#000"/><rect x="384" y="20" width="1" height="5" fill="#000"/><rect x="391" y="718" width="1" height="6" fill="#000"/><rect x="391" y="20" width="1" height="5" fill="#000"/><rect x="398" y="718" width="1" height="6" fill="#000"/><rect x="398" y="20" width="1" height="5" fill="#000"/><rect x="405" y="718" width="1" height="6" fill="#000"/><rect x="405" y="20" width="1" height="5" fill="#000"/><rect x="412" y="718" width="1" height="6" fill="#000"/><rect x="412" y="20" width="1" height="5" fill="#000"/><rect x="419" y="718" width="1" height="6" fill="#000"/><rect x="419" y="20" width="1" height="5" fill="#000"/><rect x="426" y="713" width="1" height="11" fill="#000"/><rect x="426" y="20" width="1" height="11" fill="#000"/><rect x="434" y="718" width="1" height="6" fill="#000"/><rect x="434" y="20" width="1" height="5" fill="#000"/><rect x="441" y="718" width="1" height="6" fill="#000"/><rect x="441" y="20" width="1" height="5" fill="#000"/><rect x="448" y="718" width="1" height="6" fill="#000"/><rect x="448" y="20" width="1" height="5" fill="#000"/><rect x="455" y="718" width="1" height="6" fill="#000"/><rect x="455" y="20" width="1" height="5" fill="#000"/><rect x="462" y="718" width="1" height="6" fill="#000"/><rect x="462" y="20" width="1" height="5" fill="#000"/><rect x="469" y="718" width="1" height="6" fill="#000"/><rect x="469" y="20" width="1" height="5" fill="#000"/><rect x="476" y="718" width="1" height="6" fill="#000"/><rect x="476" y="20" width="1" height="5" fill="#000"/><rect x="483" y="718" width="1" height="6" fill="#000"/><rect x="483" y="20" width="1" height="5" fill="#000"/><rect x="490" y="718" width="1" height="6" fill="#000"/><rect x="490" y="20" width="1" height="5" fill="#000"/><rect x="497" y="713" width="1" height="11" fill="#000"/><rect x="497" y="20" width="1" height="11" fill="#000"/><rect x="504" y="718" width="1" height="6" fill="#000"/><rect x="504" y="20" width="1" height="5" fill="#000"/><rect x="511" y="718" width="1" height="6" fill="#000"/><rect x="511" y="20" width="1" height="5" fill="#000"/><rect x="518" y="718" width="1" height="6" fill="#000"/><rect x="518" y="20" width="1" height="5" fill="#000"/><rect x="525" y="718" width="1" height="6" fill="#000"/><rect x="525" y="20" width="1" height="5" fill="#000"/><rect x="532" y="718" width="1" height="6" fill="#000"/><rect x="532" y="20" width="1" height="5" fill="#000"/><rect x="539" y="718" width="1" height="6" fill="#000"/><rect x="539" y="20" width="1" height="5" fill="#000"/><rect x="546" y="718" width="1" height="6" fill="#000"/><rect x="546" y="20" width="1" height="5" fill="#000"/><rect x="553" y="718" width="1" height="6" fill="#000"/><rect x="553" y="20" width="1" height="5" fill="#000"/><rect x="560" y="718" width="1" height="6" fill="#000"/><rect x="560" y="20" width="1" height="5" fill="#000"/><rect x="567" y="713" width="1" height="11" fill="#000"/><rect x="567" y="20" width="1" height="11" fill="#000"/><rect x="575" y="718" width="1" height="6" fill="#000"/><rect x="575" y="20" width="1" height="5" fill="#000"/><rect x="582" y="718" width="1" height="6" fill="#000"/><rect x="582" y="20" width="1" height="5" fill="#000"/><rect x="589" y="718" width="1" height="6" fill="#000"/><rect x="589" y="20" width="1" height="5" fill="#000"/><rect x="596" y="718" width="1" height="6" fill="#000"/><rect x="596" y="20" width="1" height="5" fill="#000"/><rect x="603" y="718" width="1" height="6" fill="#000"/><rect x="603" y="20" width="1" height="5" fill="#000"/><rect x="610" y="718" width="1" height="6" fill="#000"/><rect x="610" y="20" width="1" height="5" fill="#000"/><rect x="617" y="718" width="1" height="6" fill="#000"/><rect x="617" y="20" width="1" height="5" fill="#000"/><rect x="624" y="718" width="1" height="6" fill="#000"/><rect x="624" y="20" width="1" height="5" fill="#000"/><rect x="631" y="718" width="1" height="6" fill="#000"/><rect x="631" y="20" width="1" height="5" fill="#000"/><rect x="638" y="713" width="1" height="11" fill="#000"/><rect x="638" y="20" width="1" height="11" fill="#000"/><rect x="645" y="718" width="1" height="6" fill="#000"/><rect x="645" y="20" width="1" height="5" fill="#000"/><rect x="652" y="718" width="1" height="6" fill="#000"/><rect x="652" y="20" width="1" height="5" fill="#000"/><rect x="659" y="718" width="1" height="6" fill="#000"/><rect x="659" y="20" width="1" height="5" fill="#000"/><rect x="666" y="718" width="1" height="6" fill="#000"/><rect x="666" y="20" width="1" height="5" fill="#000"/><rect x="673" y="718" width="1" height="6" fill="#000"/><rect x="673" y="20" width="1" height="5" fill="#000"/><rect x="680" y="718" width="1" height="6" fill="#000"/><rect x="680" y="20" width="1" height="5" fill="#000"/><rect x="687" y="718" width="1" height="6" fill="#000"/><rect x="687" y="20" width="1" height="5" fill="#000"/><rect x="694" y="718" width="1" height="6" fill="#000"/><rect x="694" y="20" width="1" height="5" fill="#000"/><rect x="701" y="718" width="1" height="6" fill="#000"/><rect x="701" y="20" width="1" height="5" fill="#000"/><rect x="708" y="713" width="1" height="11" fill="#000"/><rect x="708" y="20" width="1" height="11" fill="#000"/><rect x="716" y="718" width="1" height="6" fill="#000"/><rect x="716" y="20" width="1" height="5" fill="#000"/><rect x="723" y="718" width="1" height="6" fill="#000"/><rect x="723" y="20" width="1" height="5" fill="#000"/><rect x="730" y="718" width="1" height="6" fill="#000"/><rect x="730" y="20" width="1" height="5" fill="#000"/><rect x="737" y="718" width="1" height="6" fill="#000"/><rect x="737" y="20" width="1" height="5" fill="#000"/><rect x="744" y="718" width="1" height="6" fill="#000"/><rect x="744" y="20" width="1" height="5" fill="#000"/><rect x="751" y="718" width="1" height="6" fill="#000"/><rect x="751" y="20" width="1" height="5" fill="#000"/><rect x="758" y="718" width="1" height="6" fill="#000"/><rect x="758" y="20" width="1" height="5" fill="#000"/><rect x="765" y="718" width="1" height="6" fill="#000"/><rect x="765" y="20" width="1" height="5" fill="#000"/><rect x="772" y="718" width="1" height="6" fill="#000"/><rect x="772" y="20" width="1" height="5" fill="#000"/><rect x="75" y="710" width="11" height="1" fill="#000"/><rect x="768" y="710" width="11" height="1" fill="#000"/><rect x="75" y="682" width="6" height="1" fill="#000"/><rect x="774" y="682" width="5" height="1" fill="#000"/><rect x="75" y="655" width="6" height="1" fill="#000"/><rect x="774" y="655" width="5" height="1" fill="#000"/><rect x="75" y="627" width="6" height="1" fill="#000"/><rect x="774" y="627" width="5" height="1" fill="#000"/><rect x="75" y="599" width="6" height="1" fill="#000"/><rect x="774" y="599" width="5" height="1" fill="#000"/><rect x="75" y="572" width="11" height="1" fill="#000"/><rect x="768" y="572" width="11" height="1" fill="#000"/><rect x="75" y="544" width="6" height="1" fill="#000"/><rect x="774" y="544" width="5" height="1" fill="#000"/><rect x="75" y="516" width="6" height="1" fill="#000"/><rect x="774" y="516" width="5" height="1" fill="#000"/><rect x="75" y="489" width="6" height="1" fill="#000"/><rect x="774" y="489" width="5" height="1" fill="#000"/><rect x="75" y="461" width="6" height="1" fill="#000"/><rect x="774" y="461" width="5" height="1" fill="#000"/><rect x="75" y="433" width="11" height="1" fill="#000"/><rect x="768" y="433" width="11" height="1" fill="#000"/><rect x="75" y="406" width="6" height="1" fill="#000"/><rect x="774" y="406" width="5" height="1" fill="#000"/><rect x="75" y="378" width="6" height="1" fill="#000"/><rect x="774" y="378" width="5" height="1" fill="#000"/><rect x="75" y="351" width="6" height="1" fill="#000"/><rect x="774" y="351" width="5" height="1" fill="#000"/><rect x="75" y="323" width="6" height="1" fill="#000"/><rect x="774" y="323" width="5" height="1" fill="#000"/><rect x="75" y="295" width="11" height="1" fill="#000"/><rect x="768" y="295" width="11" height="1" fill="#000"/><rect x="75" y="268" width="6" height="1" fill="#000"/><rect x="774" y="268" width="5" height="1" fill="#000"/><rect x="75" y="240" width="6" height="1" fill="#000"/><rect x="774" y="240" width="5" height="1" fill="#000"/><rect x="75" y="212" width="6" height="1" fill="#000"/><rect x="774" y="212" width="5" height="1" fill="#000"/><rect x="75" y="185" width="6" height="1" fill="#000"/><rect x="774" y="185" width="5" height="1" fill="#000"/><rect x="75" y="157" width="11" height="1" fill="#000"/><rect x="768" y="157" width="11" height="1" fill="#000"/><rect x="75" y="129" width="6" height="1" fill="#000"/><rect x="774" y="129" width="5" height="1" fill="#000"/><rect x="75" y="102" width="6" height="1" fill="#000"/><rect x="774" y="102" width="5" height="1" fill="#000"/><rect x="75" y="74" width="6" height="1" fill="#000"/><rect x="774" y="74" width="5" height="1" fill="#000"/><rect x="75" y="46" width="6" height="1" fill="#000"/><rect x="774" y="46" width="5" height="1" fill="#000"/><rect x="124" y="710" width="1" height="1" fill="#00ff00"/><rect x="126" y="710" width="1" height="1" fill="#00ff00"/><rect x="197" y="710" width="1" height="1" fill="#00ff00"/><rect x="198" y="710" width="1" height="1" fill="#00ff00"/><rect x="207" y="709" width="1" height="2" fill="#00ff00"/><rect x="212" y="710" width="1" height="1" fill="#00ff00"/><rect x="213" y="710" width="1" height="1" fill="#00ff00"/><rect x="223" y="707" width="1" height="3" fill="#00ff00"/><rect x="230" y="708" width="1" height="3" fill="#00ff00"/><rect x="231" y="708" width="1" height="3" fill="#00ff00"/><rect x="539" y="707" width="1" height="4" fill="#00ff00"/><rect x="540" y="707" width="1" height="4" fill="#00ff00"/><rect x="557" y="705" width="1" height="6" fill="#00ff00"/><rect x="558" y="705" width="1" height="6" fill="#00ff00"/><rect x="584" y="707" width="1" height="4" fill="#00ff00"/><rect x="615" y="709" width="1" height="2" fill="#00ff00"/><rect x="622" y="705" width="1" height="6" fill="#00ff00"/><rect x="652" y="710" width="1" height="1" fill="#00ff00"/><rect x="659" y="709" width="1" height="2" fill="#00ff00"/><rect x="660" y="709" width="1" height="2" fill="#00ff00"/><rect x="674" y="709" width="1" height="2" fill="#00ff00"/><rect x="676" y="709" width="1" height="2" fill="#00ff00"/><rect x="702" y="710" width="1" height="1" fill="#00ff00"/><rect x="703" y="710" width="1" height="1" fill="#00ff00"/><rect x="245" y="698" width="1" height="12" fill="#00ffff"/><rect x="256" y="705" width="1" height="5" fill="#00ffff"/><rect x="288" y="691" width="1" height="19" fill="#00ffff"/><rect x="427" y="699" width="2" height="11" fill="#00ffff"/><rect x="446" y="689" width="1" height="21" fill="#00ffff"/><rect x="448" y="689" width="1" height="21" fill="#00ffff"/><rect x="543" y="693" width="1" height="17" fill="#00ffff"/><rect x="560" y="703" width="1" height="7" fill="#00ffff"/><rect x="591" y="689" width="1" height="21" fill="#00ffff"/><rect x="80" y="188" width="2" height="522" fill="#0000ff"/><rect x="129" y="564" width="2" height="146" fill="#0000ff"/><rect x="161" y="352" width="2" height="358" fill="#0000ff"/><rect x="222" y="627" width="1" height="83" fill="#0000ff"/><rect x="249" y="530" width="2" height="180" fill="#0000ff"/><rect x="273" y="672" width="2" height="38" fill="#0000ff"/><rect x="307" y="616" width="2" height="94" fill="#0000ff"/><rect x="321" y="675" width="2" height="35" fill="#0000ff"/><rect x="327" y="667" width="2" height="43" fill="#0000ff"/><rect x="344" y="641" width="2" height="69" fill="#0000ff"/><rect x="346" y="536" width="2" height="174" fill="#0000ff"/><rect x="375" y="639" width="1" height="71" fill="#0000ff"/><rect x="391" y="505" width="2" height="205" fill="#0000ff"/><rect x="431" y="636" width="1" height="74" fill="#0000ff"/><rect x="532" y="653" width="1" height="57" fill="#0000ff"/><rect x="534" y="182" width="2" height="528" fill="#0000ff"/><rect x="548" y="513" width="1" height="197" fill="#0000ff"/><rect x="566" y="641" width="1" height="69" fill="#0000ff"/><rect x="646" y="594" width="2" height="116" fill="#0000ff"/><rect x="694" y="318" width="2" height="392" fill="#0000ff"/><rect x="733" y="558" width="1" height="152" fill="#0000ff"/><rect x="774" y="274" width="2" height="436" fill="#0000ff"/><rect x="78" y="710" width="5" height="14" fill="#ff0000"/><rect x="127" y="710" width="5" height="14" fill="#ff0000"/><rect x="159" y="710" width="5" height="14" fill="#ff0000"/><rect x="221" y="710" width="5" height="14" fill="#ff0000"/><rect x="244" y="710" width="8" height="14" fill="#ff0000"/><rect x="254" y="710" width="5" height="14" fill="#ff0000"/><rect x="272" y="710" width="5" height="14" fill="#ff0000"/><rect x="286" y="710" width="5" height="14" fill="#ff0000"/><rect x="305" y="710" width="5" height="14" fill="#ff0000"/><rect x="320" y="710" width="5" height="14" fill="#ff0000"/><rect x="326" y="710" width="5" height="14" fill="#ff0000"/><rect x="343" y="710" width="7" height="14" fill="#ff0000"/><rect x="373" y="710" width="5" height="14" fill="#ff0000"/><rect x="389" y="710" width="5" height="14" fill="#ff0000"/><rect x="426" y="710" width="8" height="14" fill="#ff0000"/><rect x="445" y="710" width="5" height="14" fill="#ff0000"/><rect x="530" y="710" width="7" height="14" fill="#ff0000"/><rect x="541" y="710" width="10" height="14" fill="#ff0000"/><rect x="558" y="710" width="5" height="14" fill="#ff0000"/><rect x="564" y="710" width="5" height="14" fill="#ff0000"/><rect x="589" y="710" width="5" height="14" fill="#ff0000"/><rect x="644" y="710" width="5" height="14" fill="#ff0000"/><rect x="693" y="710" width="5" height="14" fill="#ff0000"/><rect x="731" y="710" width="5" height="14" fill="#ff0000"/><rect x="773" y="710" width="5" height="14" fill="#ff0000"/><rect x="74" y="704" width="706" height="1" fill="#ff00ff"/><rect x="26" y="15" width="7" height="1" fill="#000"/><rect x="26" y="16" width="8" height="1" fill="#000"/><rect x="25" y="17" width="3" height="1" fill="#000"/><rect x="25" y="18" width="2" height="1" fill="#000"/><rect x="25" y="19" width="2" height="1" fill="#000"/><rect x="25" y="20" width="7" height="1" fill="#000"/><rect x="25" y="21" width="2" height="1" fill="#000"/><rect x="31" y="21" width="2" height="1" fill="#000"/><rect x="32" y="22" width="2" height="1" fill="#000"/><rect x="32" y="23" width="2" height="1" fill="#000"/><rect x="32" y="24" width="2" height="1" fill="#000"/><rect x="25" y="25" width="2" height="1" fill="#000"/><rect x="32" y="25" width="2" height="1" fill="#000"/><rect x="25" y="26" width="3" height="1" fill="#000"/><rect x="31" y="26" width="2" height="1" fill="#000"/><rect x="26" y="27" width="5" height="1" fill="#000"/><rect x="37" y="15" width="4" height="1" fill="#000"/><rect x="36" y="16" width="2" height="1" fill="#000"/><rect x="40" y="16" width="2" height="1" fill="#000"/><rect x="35" y="17" width="3" height="1" fill="#000"/><rect x="40" y="17" width="3" height="1" fill="#000"/><rect x="35" y="18" width="3" height="1" fill="#000"/><rect x="41" y="18" width="2" height="1" fill="#000"/><rect x="35" y="19" width="2" height="1" fill="#000"/><rect x="41" y="19" width="2" height="1" fill="#000"/><rect x="35" y="20" width="2" height="1" fill="#000"/><rect x="41" y="20" width="2" height="1" fill="#000"/><rect x="35" y="21" width="2" height="1" fill="#000"/><rect x="41" y="21" width="2" height="1" fill="#000"/><rect x="35" y="22" width="2" height="1" fill="#000"/><rect x="41" y="22" width="2" height="1" fill="#000"/><rect x="35" y="23" width="2" height="1" fill="#000"/><rect x="41" y="23" width="2" height="1" fill="#000"/><rect x="35" y="24" width="2" height="1" fill="#000"/><rect x="41" y="24" width="2" height="1" fill="#000"/><rect x="35" y="25" width="3" height="1" fill="#000"/><rect x="40" y="25" width="3" height="1" fill="#000"/><rect x="36" y="26" width="2" height="1" fill="#000"/><rect x="40" y="26" width="2" height="1" fill="#000"/><rect x="37" y="27" width="4" height="1" fill="#000"/><rect x="47" y="15" width="4" height="1" fill="#000"/><rect x="46" y="16" width="2" height="1" fill="#000"/><rect x="50" y="16" width="2" height="1" fill="#000"/><rect x="45" y="17" width="3" height="1" fill="#000"/><rect x="50" y="17" width="3" height="1" fill="#000"/><rect x="45" y="18" width="3" height="1" fill="#000"/><rect x="51" y="18" width="2" height="1" fill="#000"/><rect x="45" y="19" width="2" height="1" fill="#000"/><rect x="51" y="19" width="2" height="1" fill="#000"/><rect x="45" y="20" width="2" height="1" fill="#000"/><rect x="51" y="20" width="2" height="1" fill="#000"/><rect x="45" y="21" width="2" height="1" fill="#000"/><rect x="51" y="21" width="2" height="1" fill="#000"/><rect x="45" y="22" width="2" height="1" fill="#000"/><rect x="51" y="22" width="2" height="1" fill="#000"/><rect x="45" y="23" width="2" height="1" fill="#000"/><rect x="51" y="23" width="2" height="1" fill="#000"/><rect x="45" y="24" width="2" height="1" fill="#000"/><rect x="51" y="24" width="2" height="1" fill="#000"/><rect x="45" y="25" width="3" height="1" fill="#000"/><rect x="50" y="25" width="3" height="1" fill="#000"/><rect x="46" y="26" width="2" height="1" fill="#000"/><rect x="50" y="26" width="2" height="1" fill="#000"/><rect x="47" y="27" width="4" height="1" fill="#000"/><rect x="57" y="15" width="4" height="1" fill="#000"/><rect x="56" y="16" width="2" height="1" fill="#000"/><rect x="60" y="16" width="2" height="1" fill="#000"/><rect x="55" y="17" width="3" height="1" fill="#000"/><rect x="60" y="17" width="3" height="1" fill="#000"/><rect x="55" y="18" width="3" height="1" fill="#000"/><rect x="61" y="18" width="2" height="1" fill="#000"/><rect x="55" y="19" width="2" height="1" fill="#000"/><rect x="61" y="19" width="2" height="1" fill="#000"/><rect x="55" y="20" width="2" height="1" fill="#000"/><rect x="61" y="20" width="2" height="1" fill="#000"/><rect x="55" y="21" width="2" height="1" fill="#000"/><rect x="61" y="21" width="2" height="1" fill="#000"/><rect x="55" y="22" width="2" height="1" fill="#000"/><rect x="61" y="22" width="2" height="1" fill="#000"/><rect x="55" y="23" width="2" height="1" fill="#000"/><rect x="61" y="23" width="2" height="1" fill="#000"/><rect x="55" y="24" width="2" height="1" fill="#000"/><rect x="61" y="24" width="2" height="1" fill="#000"/><rect x="55" y="25" width="3" height="1" fill="#000"/><rect x="60" y="25" width="3" height="1" fill="#000"/><rect x="56" y="26" width="2" height="1" fill="#000"/><rect x="60" y="26" width="2" height="1" fill="#000"/><rect x="57" y="27" width="4" height="1" fill="#000"/><rect x="30" y="153" width="2" height="1" fill="#000"/><rect x="29" y="154" width="3" height="1" fill="#000"/><rect x="29" y="155" width="3" height="1" fill="#000"/><rect x="28" y="156" width="4" height="1" fill="#000"/><rect x="27" y="157" width="2" height="1" fill="#000"/><rect x="30" y="157" width="2" height="1" fill="#000"/><rect x="26" y="158" width="2" height="1" fill="#000"/><rect x="30" y="158" width="2" height="1" fill="#000"/><rect x="26" y="159" width="2" height="1" fill="#000"/><rect x="30" y="159" width="2" height="1" fill="#000"/><rect x="25" y="160" width="2" height="1" fill="#000"/><rect x="30" y="160" width="2" height="1" fill="#000"/><rect x="24" y="161" width="2" height="1" fill="#000"/><rect x="30" y="161" width="2" height="1" fill="#000"/><rect x="24" y="162" width="10" height="1" fill="#000"/><rect x="30" y="163" width="2" height="1" fill="#000"/><rect x="30" y="164" width="2" height="1" fill="#000"/><rect x="30" y="165" width="2" height="1" fill="#000"/><rect x="37" y="153" width="4" height="1" fill="#000"/><rect x="36" y="154" width="2" height="1" fill="#000"/><rect x="40" y="154" width="2" height="1" fill="#000"/><rect x="35" y="155" width="3" height="1" fill="#000"/><rect x="40" y="155" width="3" height="1" fill="#000"/><rect x="35" y="156" width="3" height="1" fill="#000"/><rect x="41" y="156" width="2" height="1" fill="#000"/><rect x="35" y="157" width="2" height="1" fill="#000"/><rect x="41" y="157" width="2" height="1" fill="#000"/><rect x="35" y="158" width="2" height="1" fill="#000"/><rect x="41" y="158" width="2" height="1" fill="#000"/><rect x="35" y="159" width="2" height="1" fill="#000"/><rect x="41" y="159" width="2" height="1" fill="#000"/><rect x="35" y="160" width="2" height="1" fill="#000"/><rect x="41" y="160" width="2" height="1" fill="#000"/><rect x="35" y="161" width="2" height="1" fill="#000"/><rect x="41" y="161" width="2" height="1" fill="#000"/><rect x="35" y="162" width="2" height="1" fill="#000"/><rect x="41" y="162" width="2" height="1" fill="#000"/><rect x="35" y="163" width="3" height="1" fill="#000"/><rect x="40" y="163" width="3" height="1" fill="#000"/><rect x="36" y="164" width="2" height="1" fill="#000"/><rect x="40" y="164" width="2" height="1" fill="#000"/><rect x="37" y="165" width="4" height="1" fill="#000"/><rect x="47" y="153" width="4" height="1" fill="#000"/><rect x="46" y="154" width="2" height="1" fill="#000"/><rect x="50" y="154" width="2" height="1" fill="#000"/><rect x="45" y="155" width="3" height="1" fill="#000"/><rect x="50" y="155" width="3" height="1" fill="#000"/><rect x="45" y="156" width="3" height="1" fill="#000"/><rect x="51" y="156" width="2" height="1" fill="#000"/><rect x="45" y="157" width="2" height="1" fill="#000"/><rect x="51" y="157" width="2" height="1" fill="#000"/><rect x="45" y="158" width="2" height="1" fill="#000"/><rect x="51" y="158" width="2" height="1" fill="#000"/><rect x="45" y="159" width="2" height="1" fill="#000"/><rect x="51" y="159" width="2" height="1" fill="#000"/><rect x="45" y="160" width="2" height="1" fill="#000"/><rect x="51" y="160" width="2" height="1" fill="#000"/><rect x="45" y="161" width="2" height="1" fill="#000"/><rect x="51" y="161" width="2" height="1" fill="#000"/><rect x="45" y="162" width="2" height="1" fill="#000"/><rect x="51" y="162" width="2" height="1" fill="#000"/><rect x="45" y="163" width="3" height="1" fill="#000"/><rect x="50" y="163" width="3" height="1" fill="#000"/><rect x="46" y="164" width="2" height="1" fill="#000"/><rect x="50" y="164" width="2" height="1" fill="#000"/><rect x="47" y="165" width="4" height="1" fill="#000"/><rect x="57" y="153" width="4" height="1" fill="#000"/><rect x="56" y="154" width="2" height="1" fill="#000"/><rect x="60" y="154" width="2" height="1" fill="#000"/><rect x="55" y="155" width="3" height="1" fill="#000"/><rect x="60" y="155" width="3" height="1" fill="#000"/><rect x="55" y="156" width="3" height="1" fill="#000"/><rect x="61" y="156" width="2" height="1" fill="#000"/><rect x="55" y="157" width="2" height="1" fill="#000"/><rect x="61" y="157" width="2" height="1" fill="#000"/><rect x="55" y="158" width="2" height="1" fill="#000"/><rect x="61" y="158" width="2" height="1" fill="#000"/><rect x="55" y="159" width="2" height="1" fill="#000"/><rect x="61" y="159" width="2" height="1" fill="#000"/><rect x="55" y="160" width="2" height="1" fill="#000"/><rect x="61" y="160" width="2" height="1" fill="#000"/><rect x="55" y="161" width="2" height="1" fill="#000"/><rect x="61" y="161" width="2" height="1" fill="#000"/><rect x="55" y="162" width="2" height="1" fill="#000"/><rect x="61" y="162" width="2" height="1" fill="#000"/><rect x="55" y="163" width="3" height="1" fill="#000"/><rect x="60" y="163" width="3" height="1" fill="#000"/><rect x="56" y="164" width="2" height="1" fill="#000"/><rect x="60" y="164" width="2" height="1" fill="#000"/><rect x="57" y="165" width="4" height="1" fill="#000"/><rect x="27" y="292" width="4" height="1" fill="#000"/><rect x="26" y="293" width="2" height="1" fill="#000"/><rect x="30" y="293" width="2" height="1" fill="#000"/><rect x="25" y="294" width="2" height="1" fill="#000"/><rect x="31" y="294" width="2" height="1" fill="#000"/><rect x="25" y="295" width="2" height="1" fill="#000"/><rect x="31" y="295" width="2" height="1" fill="#000"/><rect x="31" y="296" width="2" height="1" fill="#000"/><rect x="30" y="297" width="2" height="1" fill="#000"/><rect x="28" y="298" width="4" height="1" fill="#000"/><rect x="30" y="299" width="3" height="1" fill="#000"/><rect x="31" y="300" width="2" height="1" fill="#000"/><rect x="24" y="301" width="2" height="1" fill="#000"/><rect x="31" y="301" width="2" height="1" fill="#000"/><rect x="24" y="302" width="3" height="1" fill="#000"/><rect x="31" y="302" width="2" height="1" fill="#000"/><rect x="25" y="303" width="2" height="1" fill="#000"/><rect x="30" y="303" width="2" height="1" fill="#000"/><rect x="26" y="304" width="5" height="1" fill="#000"/><rect x="37" y="292" width="4" height="1" fill="#000"/><rect x="36" y="293" width="2" height="1" fill="#000"/><rect x="40" y="293" width="2" height="1" fill="#000"/><rect x="35" y="294" width="3" height="1" fill="#000"/><rect x="40" y="294" width="3" height="1" fill="#000"/><rect x="35" y="295" width="3" height="1" fill="#000"/><rect x="41" y="295" width="2" height="1" fill="#000"/><rect x="35" y="296" width="2" height="1" fill="#000"/><rect x="41" y="296" width="2" height="1" fill="#000"/><rect x="35" y="297" width="2" height="1" fill="#000"/><rect x="41" y="297" width="2" height="1" fill="#000"/><rect x="35" y="298" width="2" height="1" fill="#000"/><rect x="41" y="298" width="2" height="1" fill="#000"/><rect x="35" y="299" width="2" height="1" fill="#000"/><rect x="41" y="299" width="2" height="1" fill="#000"/><rect x="35" y="300" width="2" height="1" fill="#000"/><rect x="41" y="300" width="2" height="1" fill="#000"/><rect x="35" y="301" width="2" height="1" fill="#000"/><rect x="41" y="301" width="2" height="1" fill="#000"/><rect x="35" y="302" width="3" height="1" fill="#000"/><rect x="40" y="302" width="3" height="1" fill="#000"/><rect x="36" y="303" width="2" height="1" fill="#000"/><rect x="40" y="303" width="2" height="1" fill="#000"/><rect x="37" y="304" width="4" height="1" fill="#000"/><rect x="47" y="292" width="4" height="1" fill="#000"/><rect x="46" y="293" width="2" height="1" fill="#000"/><rect x="50" y="293" width="2" height="1" fill="#000"/><rect x="45" y="294" width="3" height="1" fill="#000"/><rect x="50" y="294" width="3" height="1" fill="#000"/><rect x="45" y="295" width="3" height="1" fill="#000"/><rect x="51" y="295" width="2" height="1" fill="#000"/><rect x="45" y="296" width="2" height="1" fill="#000"/><rect x="51" y="296" width="2" height="1" fill="#000"/><rect x="45" y="297" width="2" height="1" fill="#000"/><rect x="51" y="297" width="2" height="1" fill="#000"/><rect x="45" y="298" width="2" height="1" fill="#000"/><rect x="51" y="298" width="2" height="1" fill="#000"/><rect x="45" y="299" width="2" height="1" fill="#000"/><rect x="51" y="299" width="2" height="1" fill="#000"/><rect x="45" y="300" width="2" height="1" fill="#000"/><rect x="51" y="300" width="2" height="1" fill="#000"/><rect x="45" y="301" width="2" height="1" fill="#000"/><rect x="51" y="301" width="2" height="1" fill="#000"/><rect x="45" y="302" width="3" height="1" fill="#000"/><rect x="50" y="302" width="3" height="1" fill="#000"/><rect x="46" y="303" width="2" height="1" fill="#000"/><rect x="50" y="303" width="2" height="1" fill="#000"/><rect x="47" y="304" width="4" height="1" fill="#000"/><rect x="57" y="292" width="4" height="1" fill="#000"/><rect x="56" y="293" width="2" height="1" fill="#000"/><rect x="60" y="293" width="2" height="1" fill="#000"/><rect x="55" y="294" width="3" height="1" fill="#000"/><rect x="60" y="294" width="3" height="1" fill="#000"/><rect x="55" y="295" width="3" height="1" fill="#000"/><rect x="61" y="295" width="2" height="1" fill="#000"/><rect x="55" y="296" width="2" height="1" fill="#000"/><rect x="61" y="296" width="2" height="1" fill="#000"/><rect x="55" y="297" width="2" height="1" fill="#000"/><rect x="61" y="297" width="2" height="1" fill="#000"/><rect x="55" y="298" width="2" height="1" fill="#000"/><rect x="61" y="298" width="2" height="1" fill="#000"/><rect x="55" y="299" width="2" height="1" fill="#000"/><rect x="61" y="299" width="2" height="1" fill="#000"/><rect x="55" y="300" width="2" height="1" fill="#000"/><rect x="61" y="300" width="2" height="1" fill="#000"/><rect x="55" y="301" width="2" height="1" fill="#000"/><rect x="61" y="301" width="2" height="1" fill="#000"/><rect x="55" y="302" width="3" height="1" fill="#000"/><rect x="60" y="302" width="3" height="1" fill="#000"/><rect x="56" y="303" width="2" height="1" fill="#000"/><rect x="60" y="303" width="2" height="1" fill="#000"/><rect x="57" y="304" width="4" height="1" fill="#000"/><rect x="27" y="430" width="4" height="1" fill="#000"/><rect x="26" y="431" width="2" height="1" fill="#000"/><rect x="31" y="431" width="2" height="1" fill="#000"/><rect x="25" y="432" width="2" height="1" fill="#000"/><rect x="32" y="432" width="2" height="1" fill="#000"/><rect x="25" y="433" width="2" height="1" fill="#000"/><rect x="32" y="433" width="2" height="1" fill="#000"/><rect x="25" y="434" width="1" height="1" fill="#000"/><rect x="32" y="434" width="2" height="1" fill="#000"/><rect x="31" y="435" width="2" height="1" fill="#000"/><rect x="30" y="436" width="3" height="1" fill="#000"/><rect x="28" y="437" width="3" height="1" fill="#000"/><rect x="27" y="438" width="2" height="1" fill="#000"/><rect x="26" y="439" width="2" height="1" fill="#000"/><rect x="25" y="440" width="2" height="1" fill="#000"/><rect x="25" y="441" width="9" height="1" fill="#000"/><rect x="24" y="442" width="10" height="1" fill="#000"/><rect x="37" y="430" width="4" height="1" fill="#000"/><rect x="36" y="431" width="2" height="1" fill="#000"/><rect x="40" y="431" width="2" height="1" fill="#000"/><rect x="35" y="432" width="3" height="1" fill="#000"/><rect x="40" y="432" width="3" height="1" fill="#000"/><rect x="35" y="433" width="3" height="1" fill="#000"/><rect x="41" y="433" width="2" height="1" fill="#000"/><rect x="35" y="434" width="2" height="1" fill="#000"/><rect x="41" y="434" width="2" height="1" fill="#000"/><rect x="35" y="435" width="2" height="1" fill="#000"/><rect x="41" y="435" width="2" height="1" fill="#000"/><rect x="35" y="436" width="2" height="1" fill="#000"/><rect x="41" y="436" width="2" height="1" fill="#000"/><rect x="35" y="437" width="2" height="1" fill="#000"/><rect x="41" y="437" width="2" height="1" fill="#000"/><rect x="35" y="438" width="2" height="1" fill="#000"/><rect x="41" y="438" width="2" height="1" fill="#000"/><rect x="35" y="439" width="2" height="1" fill="#000"/><rect x="41" y="439" width="2" height="1" fill="#000"/><rect x="35" y="440" width="3" height="1" fill="#000"/><rect x="40" y="440" width="3" height="1" fill="#000"/><rect x="36" y="441" width="2" height="1" fill="#000"/><rect x="40" y="441" width="2" height="1" fill="#000"/><rect x="37" y="442" width="4" height="1" fill="#000"/><rect x="47" y="430" width="4" height="1" fill="#000"/><rect x="46" y="431" width="2" height="1" fill="#000"/><rect x="50" y="431" width="2" height="1" fill="#000"/><rect x="45" y="432" width="3" height="1" fill="#000"/><rect x="50" y="432" width="3" height="1" fill="#000"/><rect x="45" y="433" width="3" height="1" fill="#000"/><rect x="51" y="433" width="2" height="1" fill="#000"/><rect x="45" y="434" width="2" height="1" fill="#000"/><rect x="51" y="434" width="2" height="1" fill="#000"/><rect x="45" y="435" width="2" height="1" fill="#000"/><rect x="51" y="435" width="2" height="1" fill="#000"/><rect x="45" y="436" width="2" height="1" fill="#000"/><rect x="51" y="436" width="2" height="1" fill="#000"/><rect x="45" y="437" width="2" height="1" fill="#000"/><rect x="51" y="437" width="2" height="1" fill="#000"/><rect x="45" y="438" width="2" height="1" fill="#000"/><rect x="51" y="438" width="2" height="1" fill="#000"/><rect x="45" y="439" width="2" height="1" fill="#000"/><rect x="51" y="439" width="2" height="1" fill="#000"/><rect x="45" y="440" width="3" height="1" fill="#000"/><rect x="50" y="440" width="3" height="1" fill="#000"/><rect x="46" y="441" width="2" height="1" fill="#000"/><rect x="50" y="441" width="2" height="1" fill="#000"/><rect x="47" y="442" width="4" height="1" fill="#000"/><rect x="57" y="430" width="4" height="1" fill="#000"/><rect x="56" y="431" width="2" height="1" fill="#000"/><rect x="60" y="431" width="2" height="1" fill="#000"/><rect x="55" y="432" width="3" height="1" fill="#000"/><rect x="60" y="432" width="3" height="1" fill="#000"/><rect x="55" y="433" width="3" height="1" fill="#000"/><rect x="61" y="433" width="2" height="1" fill="#000"/><rect x="55" y="434" width="2" height="1" fill="#000"/><rect x="61" y="434" width="2" height="1" fill="#000"/><rect x="55" y="435" width="2" height="1" fill="#000"/><rect x="61" y="435" width="2" height="1" fill="#000"/><rect x="55" y="436" width="2" height="1" fill="#000"/><rect x="61" y="436" width="2" height="1" fill="#000"/><rect x="55" y="437" width="2" height="1" fill="#000"/><rect x="61" y="437" width="2" height="1" fill="#000"/><rect x="55" y="438" width="2" height="1" fill="#000"/><rect x="61" y="438" width="2" height="1" fill="#000"/><rect x="55" y="439" width="2" height="1" fill="#000"/><rect x="61" y="439" width="2" height="1" fill="#000"/><rect x="55" y="440" width="3" height="1" fill="#000"/><rect x="60" y="440" width="3" height="1" fill="#000"/><rect x="56" y="441" width="2" height="1" fill="#000"/><rect x="60" y="441" width="2" height="1" fill="#000"/><rect x="57" y="442" width="4" height="1" fill="#000"/><rect x="29" y="568" width="2" height="1" fill="#000"/><rect x="29" y="569" width="2" height="1" fill="#000"/><rect x="26" y="570" width="5" height="1" fill="#000"/><rect x="26" y="571" width="5" height="1" fill="#000"/><rect x="29" y="572" width="2" height="1" fill="#000"/><rect x="29" y="573" width="2" height="1" fill="#000"/><rect x="29" y="574" width="2" height="1" fill="#000"/><rect x="29" y="575" width="2" height="1" fill="#000"/><rect x="29" y="576" width="2" height="1" fill="#000"/><rect x="29" y="577" width="2" height="1" fill="#000"/><rect x="29" y="578" width="2" height="1" fill="#000"/><rect x="29" y="579" width="2" height="1" fill="#000"/><rect x="29" y="580" width="2" height="1" fill="#000"/><rect x="37" y="568" width="4" height="1" fill="#000"/><rect x="36" y="569" width="2" height="1" fill="#000"/><rect x="40" y="569" width="2" height="1" fill="#000"/><rect x="35" y="570" width="3" height="1" fill="#000"/><rect x="40" y="570" width="3" height="1" fill="#000"/><rect x="35" y="571" width="3" height="1" fill="#000"/><rect x="41" y="571" width="2" height="1" fill="#000"/><rect x="35" y="572" width="2" height="1" fill="#000"/><rect x="41" y="572" width="2" height="1" fill="#000"/><rect x="35" y="573" width="2" height="1" fill="#000"/><rect x="41" y="573" width="2" height="1" fill="#000"/><rect x="35" y="574" width="2" height="1" fill="#000"/><rect x="41" y="574" width="2" height="1" fill="#000"/><rect x="35" y="575" width="2" height="1" fill="#000"/><rect x="41" y="575" width="2" height="1" fill="#000"/><rect x="35" y="576" width="2" height="1" fill="#000"/><rect x="41" y="576" width="2" height="1" fill="#000"/><rect x="35" y="577" width="2" height="1" fill="#000"/><rect x="41" y="577" width="2" height="1" fill="#000"/><rect x="35" y="578" width="3" height="1" fill="#000"/><rect x="40" y="578" width="3" height="1" fill="#000"/><rect x="36" y="579" width="2" height="1" fill="#000"/><rect x="40" y="579" width="2" height="1" fill="#000"/><rect x="37" y="580" width="4" height="1" fill="#000"/><rect x="47" y="568" width="4" height="1" fill="#000"/><rect x="46" y="569" width="2" height="1" fill="#000"/><rect x="50" y="569" width="2" height="1" fill="#000"/><rect x="45" y="570" width="3" height="1" fill="#000"/><rect x="50" y="570" width="3" height="1" fill="#000"/><rect x="45" y="571" width="3" height="1" fill="#000"/><rect x="51" y="571" width="2" height="1" fill="#000"/><rect x="45" y="572" width="2" height="1" fill="#000"/><rect x="51" y="572" width="2" height="1" fill="#000"/><rect x="45" y="573" width="2" height="1" fill="#000"/><rect x="51" y="573" width="2" height="1" fill="#000"/><rect x="45" y="574" width="2" height="1" fill="#000"/><rect x="51" y="574" width="2" height="1" fill="#000"/><rect x="45" y="575" width="2" height="1" fill="#000"/><rect x="51" y="575" width="2" height="1" fill="#000"/><rect x="45" y="576" width="2" height="1" fill="#000"/><rect x="51" y="576" width="2" height="1" fill="#000"/><rect x="45" y="577" width="2" height="1" fill="#000"/><rect x="51" y="577" width="2" height="1" fill="#000"/><rect x="45" y="578" width="3" height="1" fill="#000"/><rect x="50" y="578" width="3" height="1" fill="#000"/><rect x="46" y="579" width="2" height="1" fill="#000"/><rect x="50" y="579" width="2" height="1" fill="#000"/><rect x="47" y="580" width="4" height="1" fill="#000"/><rect x="57" y="568" width="4" height="1" fill="#000"/><rect x="56" y="569" width="2" height="1" fill="#000"/><rect x="60" y="569" width="2" height="1" fill="#000"/><rect x="55" y="570" width="3" height="1" fill="#000"/><rect x="60" y="570" width="3" height="1" fill="#000"/><rect x="55" y="571" width="3" height="1" fill="#000"/><rect x="61" y="571" width="2" height="1" fill="#000"/><rect x="55" y="572" width="2" height="1" fill="#000"/><rect x="61" y="572" width="2" height="1" fill="#000"/><rect x="55" y="573" width="2" height="1" fill="#000"/><rect x="61" y="573" width="2" height="1" fill="#000"/><rect x="55" y="574" width="2" height="1" fill="#000"/><rect x="61" y="574" width="2" height="1" fill="#000"/><rect x="55" y="575" width="2" height="1" fill="#000"/><rect x="61" y="575" width="2" height="1" fill="#000"/><rect x="55" y="576" width="2" height="1" fill="#000"/><rect x="61" y="576" width="2" height="1" fill="#000"/><rect x="55" y="577" width="2" height="1" fill="#000"/><rect x="61" y="577" width="2" height="1" fill="#000"/><rect x="55" y="578" width="3" height="1" fill="#000"/><rect x="60" y="578" width="3" height="1" fill="#000"/><rect x="56" y="579" width="2" height="1" fill="#000"/><rect x="60" y="579" width="2" height="1" fill="#000"/><rect x="57" y="580" width="4" height="1" fill="#000"/><rect x="58" y="706" width="4" height="1" fill="#000"/><rect x="57" y="707" width="2" height="1" fill="#000"/><rect x="61" y="707" width="2" height="1" fill="#000"/><rect x="56" y="708" width="3" height="1" fill="#000"/><rect x="61" y="708" width="3" height="1" fill="#000"/><rect x="56" y="709" width="3" height="1" fill="#000"/><rect x="62" y="709" width="2" height="1" fill="#000"/><rect x="56" y="710" width="2" height="1" fill="#000"/><rect x="62" y="710" width="2" height="1" fill="#000"/><rect x="56" y="711" width="2" height="1" fill="#000"/><rect x="62" y="711" width="2" height="1" fill="#000"/><rect x="56" y="712" width="2" height="1" fill="#000"/><rect x="62" y="712" width="2" height="1" fill="#000"/><rect x="56" y="713" width="2" height="1" fill="#000"/><rect x="62" y="713" width="2" height="1" fill="#000"/><rect x="56" y="714" width="2" height="1" fill="#000"/><rect x="62" y="714" width="2" height="1" fill="#000"/><rect x="56" y="715" width="2" height="1" fill="#000"/><rect x="62" y="715" width="2" height="1" fill="#000"/><rect x="56" y="716" width="3" height="1" fill="#000"/><rect x="61" y="716" width="3" height="1" fill="#000"/><rect x="57" y="717" width="2" height="1" fill="#000"/><rect x="61" y="717" width="2" height="1" fill="#000"/><rect x="58" y="718" width="4" height="1" fill="#000"/><rect x="64" y="739" width="2" height="1" fill="#000"/><rect x="64" y="740" width="2" height="1" fill="#000"/><rect x="61" y="741" width="5" height="1" fill="#000"/><rect x="61" y="742" width="5" height="1" fill="#000"/><rect x="64" y="743" width="2" height="1" fill="#000"/><rect x="64" y="744" width="2" height="1" fill="#000"/><rect x="64" y="745" width="2" height="1" fill="#000"/><rect x="64" y="746" width="2" height="1" fill="#000"/><rect x="64" y="747" width="2" height="1" fill="#000"/><rect x="64" y="748" width="2" height="1" fill="#000"/><rect x="64" y="749" width="2" height="1" fill="#000"/><rect x="64" y="750" width="2" height="1" fill="#000"/><rect x="64" y="751" width="2" height="1" fill="#000"/><rect x="71" y="750" width="2" height="1" fill="#000"/><rect x="71" y="751" width="2" height="1" fill="#000"/><rect x="75" y="739" width="9" height="1" fill="#000"/><rect x="74" y="740" width="9" height="1" fill="#000"/><rect x="81" y="741" width="2" height="1" fill="#000"/><rect x="80" y="742" width="2" height="1" fill="#000"/><rect x="80" y="743" width="2" height="1" fill="#000"/><rect x="79" y="744" width="2" height="1" fill="#000"/><rect x="79" y="745" width="2" height="1" fill="#000"/><rect x="78" y="746" width="2" height="1" fill="#000"/><rect x="78" y="747" width="2" height="1" fill="#000"/><rect x="77" y="748" width="2" height="1" fill="#000"/><rect x="77" y="749" width="2" height="1" fill="#000"/><rect x="77" y="750" width="2" height="1" fill="#000"/><rect x="76" y="751" width="2" height="1" fill="#000"/><rect x="129" y="739" width="2" height="1" fill="#000"/><rect x="129" y="740" width="2" height="1" fill="#000"/><rect x="126" y="741" width="5" height="1" fill="#000"/><rect x="126" y="742" width="5" height="1" fill="#000"/><rect x="129" y="743" width="2" height="1" fill="#000"/><rect x="129" y="744" width="2" height="1" fill="#000"/><rect x="129" y="745" width="2" height="1" fill="#000"/><rect x="129" y="746" width="2" height="1" fill="#000"/><rect x="129" y="747" width="2" height="1" fill="#000"/><rect x="129" y="748" width="2" height="1" fill="#000"/><rect x="129" y="749" width="2" height="1" fill="#000"/><rect x="129" y="750" width="2" height="1" fill="#000"/><rect x="129" y="751" width="2" height="1" fill="#000"/><rect x="137" y="750" width="2" height="1" fill="#000"/><rect x="137" y="751" width="2" height="1" fill="#000"/><rect x="141" y="739" width="9" height="1" fill="#000"/><rect x="140" y="740" width="9" height="1" fill="#000"/><rect x="147" y="741" width="2" height="1" fill="#000"/><rect x="146" y="742" width="2" height="1" fill="#000"/><rect x="146" y="743" width="2" height="1" fill="#000"/><rect x="145" y="744" width="2" height="1" fill="#000"/><rect x="145" y="745" width="2" height="1" fill="#000"/><rect x="144" y="746" width="2" height="1" fill="#000"/><rect x="144" y="747" width="2" height="1" fill="#000"/><rect x="143" y="748" width="2" height="1" fill="#000"/><rect x="143" y="749" width="2" height="1" fill="#000"/><rect x="143" y="750" width="2" height="1" fill="#000"/><rect x="142" y="751" width="2" height="1" fill="#000"/><rect x="155" y="739" width="2" height="1" fill="#000"/><rect x="155" y="740" width="2" height="1" fill="#000"/><rect x="152" y="741" width="5" height="1" fill="#000"/><rect x="152" y="742" width="5" height="1" fill="#000"/><rect x="155" y="743" width="2" height="1" fill="#000"/><rect x="155" y="744" width="2" height="1" fill="#000"/><rect x="155" y="745" width="2" height="1" fill="#000"/><rect x="155" y="746" width="2" height="1" fill="#000"/><rect x="155" y="747" width="2" height="1" fill="#000"/><rect x="155" y="748" width="2" height="1" fill="#000"/><rect x="155" y="749" width="2" height="1" fill="#000"/><rect x="155" y="750" width="2" height="1" fill="#000"/><rect x="155" y="751" width="2" height="1" fill="#000"/><rect x="200" y="739" width="2" height="1" fill="#000"/><rect x="200" y="740" width="2" height="1" fill="#000"/><rect x="197" y="741" width="5" height="1" fill="#000"/><rect x="197" y="742" width="5" height="1" fill="#000"/><rect x="200" y="743" width="2" height="1" fill="#000"/><rect x="200" y="744" width="2" height="1" fill="#000"/><rect x="200" y="745" width="2" height="1" fill="#000"/><rect x="200" y="746" width="2" height="1" fill="#000"/><rect x="200" y="747" width="2" height="1" fill="#000"/><rect x="200" y="748" width="2" height="1" fill="#000"/><rect x="200" y="749" width="2" height="1" fill="#000"/><rect x="200" y="750" width="2" height="1" fill="#000"/><rect x="200" y="751" width="2" height="1" fill="#000"/><rect x="207" y="750" width="2" height="1" fill="#000"/><rect x="207" y="751" width="2" height="1" fill="#000"/><rect x="211" y="739" width="9" height="1" fill="#000"/><rect x="210" y="740" width="9" height="1" fill="#000"/><rect x="217" y="741" width="2" height="1" fill="#000"/><rect x="216" y="742" width="2" height="1" fill="#000"/><rect x="216" y="743" width="2" height="1" fill="#000"/><rect x="215" y="744" width="2" height="1" fill="#000"/><rect x="215" y="745" width="2" height="1" fill="#000"/><rect x="214" y="746" width="2" height="1" fill="#000"/><rect x="214" y="747" width="2" height="1" fill="#000"/><rect x="213" y="748" width="2" height="1" fill="#000"/><rect x="213" y="749" width="2" height="1" fill="#000"/><rect x="213" y="750" width="2" height="1" fill="#000"/><rect x="212" y="751" width="2" height="1" fill="#000"/><rect x="223" y="739" width="4" height="1" fill="#000"/><rect x="222" y="740" width="2" height="1" fill="#000"/><rect x="227" y="740" width="2" height="1" fill="#000"/><rect x="221" y="741" width="2" height="1" fill="#000"/><rect x="228" y="741" width="2" height="1" fill="#000"/><rect x="221" y="742" width="2" height="1" fill="#000"/><rect x="228" y="742" width="2" height="1" fill="#000"/><rect x="221" y="743" width="1" height="1" fill="#000"/><rect x="228" y="743" width="2" height="1" fill="#000"/><rect x="227" y="744" width="2" height="1" fill="#000"/><rect x="226" y="745" width="3" height="1" fill="#000"/><rect x="224" y="746" width="3" height="1" fill="#000"/><rect x="223" y="747" width="2" height="1" fill="#000"/><rect x="222" y="748" width="2" height="1" fill="#000"/><rect x="221" y="749" width="2" height="1" fill="#000"/><rect x="221" y="750" width="9" height="1" fill="#000"/><rect x="220" y="751" width="10" height="1" fill="#000"/><rect x="270" y="739" width="2" height="1" fill="#000"/><rect x="270" y="740" width="2" height="1" fill="#000"/><rect x="267" y="741" width="5" height="1" fill="#000"/><rect x="267" y="742" width="5" height="1" fill="#000"/><rect x="270" y="743" width="2" height="1" fill="#000"/><rect x="270" y="744" width="2" height="1" fill="#000"/><rect x="270" y="745" width="2" height="1" fill="#000"/><rect x="270" y="746" width="2" height="1" fill="#000"/><rect x="270" y="747" width="2" height="1" fill="#000"/><rect x="270" y="748" width="2" height="1" fill="#000"/><rect x="270" y="749" width="2" height="1" fill="#000"/><rect x="270" y="750" width="2" height="1" fill="#000"/><rect x="270" y="751" width="2" height="1" fill="#000"/><rect x="278" y="750" width="2" height="1" fill="#000"/><rect x="278" y="751" width="2" height="1" fill="#000"/><rect x="282" y="739" width="9" height="1" fill="#000"/><rect x="281" y="740" width="9" height="1" fill="#000"/><rect x="288" y="741" width="2" height="1" fill="#000"/><rect x="287" y="742" width="2" height="1" fill="#000"/><rect x="287" y="743" width="2" height="1" fill="#000"/><rect x="286" y="744" width="2" height="1" fill="#000"/><rect x="286" y="745" width="2" height="1" fill="#000"/><rect x="285" y="746" width="2" height="1" fill="#000"/><rect x="285" y="747" width="2" height="1" fill="#000"/><rect x="284" y="748" width="2" height="1" fill="#000"/><rect x="284" y="749" width="2" height="1" fill="#000"/><rect x="284" y="750" width="2" height="1" fill="#000"/><rect x="283" y="751" width="2" height="1" fill="#000"/><rect x="294" y="739" width="4" height="1" fill="#000"/><rect x="293" y="740" width="2" height="1" fill="#000"/><rect x="297" y="740" width="2" height="1" fill="#000"/><rect x="292" y="741" width="2" height="1" fill="#000"/><rect x="298" y="741" width="2" height="1" fill="#000"/><rect x="292" y="742" width="2" height="1" fill="#000"/><rect x="298" y="742" width="2" height="1" fill="#000"/><rect x="298" y="743" width="2" height="1" fill="#000"/><rect x="297" y="744" width="2" height="1" fill="#000"/><rect x="295" y="745" width="4" height="1" fill="#000"/><rect x="297" y="746" width="3" height="1" fill="#000"/><rect x="298" y="747" width="2" height="1" fill="#000"/><rect x="291" y="748" width="2" height="1" fill="#000"/><rect x="298" y="748" width="2" height="1" fill="#000"/><rect x="291" y="749" width="3" height="1" fill="#000"/><rect x="298" y="749" width="2" height="1" fill="#000"/><rect x="292" y="750" width="2" height="1" fill="#000"/><rect x="297" y="750" width="2" height="1" fill="#000"/><rect x="293" y="751" width="5" height="1" fill="#000"/><rect x="341" y="739" width="2" height="1" fill="#000"/><rect x="341" y="740" width="2" height="1" fill="#000"/><rect x="338" y="741" width="5" height="1" fill="#000"/><rect x="338" y="742" width="5" height="1" fill="#000"/><rect x="341" y="743" width="2" height="1" fill="#000"/><rect x="341" y="744" width="2" height="1" fill="#000"/><rect x="341" y="745" width="2" height="1" fill="#000"/><rect x="341" y="746" width="2" height="1" fill="#000"/><rect x="341" y="747" width="2" height="1" fill="#000"/><rect x="341" y="748" width="2" height="1" fill="#000"/><rect x="341" y="749" width="2" height="1" fill="#000"/><rect x="341" y="750" width="2" height="1" fill="#000"/><rect x="341" y="751" width="2" height="1" fill="#000"/><rect x="348" y="750" width="2" height="1" fill="#000"/><rect x="348" y="751" width="2" height="1" fill="#000"/><rect x="352" y="739" width="9" height="1" fill="#000"/><rect x="351" y="740" width="9" height="1" fill="#000"/><rect x="358" y="741" width="2" height="1" fill="#000"/><rect x="357" y="742" width="2" height="1" fill="#000"/><rect x="357" y="743" width="2" height="1" fill="#000"/><rect x="356" y="744" width="2" height="1" fill="#000"/><rect x="356" y="745" width="2" height="1" fill="#000"/><rect x="355" y="746" width="2" height="1" fill="#000"/><rect x="355" y="747" width="2" height="1" fill="#000"/><rect x="354" y="748" width="2" height="1" fill="#000"/><rect x="354" y="749" width="2" height="1" fill="#000"/><rect x="354" y="750" width="2" height="1" fill="#000"/><rect x="353" y="751" width="2" height="1" fill="#000"/><rect x="367" y="739" width="2" height="1" fill="#000"/><rect x="366" y="740" width="3" height="1" fill="#000"/><rect x="366" y="741" width="3" height="1" fill="#000"/><rect x="365" y="742" width="4" height="1" fill="#000"/><rect x="364" y="743" width="2" height="1" fill="#000"/><rect x="367" y="743" width="2" height="1" fill="#000"/><rect x="363" y="744" width="2" height="1" fill="#000"/><rect x="367" y="744" width="2" height="1" fill="#000"/><rect x="363" y="745" width="2" height="1" fill="#000"/><rect x="367" y="745" width="2" height="1" fill="#000"/><rect x="362" y="746" width="2" height="1" fill="#000"/><rect x="367" y="746" width="2" height="1" fill="#000"/><rect x="361" y="747" width="2" height="1" fill="#000"/><rect x="367" y="747" width="2" height="1" fill="#000"/><rect x="361" y="748" width="10" height="1" fill="#000"/><rect x="367" y="749" width="2" height="1" fill="#000"/><rect x="367" y="750" width="2" height="1" fill="#000"/><rect x="367" y="751" width="2" height="1" fill="#000"/><rect x="411" y="739" width="2" height="1" fill="#000"/><rect x="411" y="740" width="2" height="1" fill="#000"/><rect x="408" y="741" width="5" height="1" fill="#000"/><rect x="408" y="742" width="5" height="1" fill="#000"/><rect x="411" y="743" width="2" height="1" fill="#000"/><rect x="411" y="744" width="2" height="1" fill="#000"/><rect x="411" y="745" width="2" height="1" fill="#000"/><rect x="411" y="746" width="2" height="1" fill="#000"/><rect x="411" y="747" width="2" height="1" fill="#000"/><rect x="411" y="748" width="2" height="1" fill="#000"/><rect x="411" y="749" width="2" height="1" fill="#000"/><rect x="411" y="750" width="2" height="1" fill="#000"/><rect x="411" y="751" width="2" height="1" fill="#000"/><rect x="419" y="750" width="2" height="1" fill="#000"/><rect x="419" y="751" width="2" height="1" fill="#000"/><rect x="423" y="739" width="9" height="1" fill="#000"/><rect x="422" y="740" width="9" height="1" fill="#000"/><rect x="429" y="741" width="2" height="1" fill="#000"/><rect x="428" y="742" width="2" height="1" fill="#000"/><rect x="428" y="743" width="2" height="1" fill="#000"/><rect x="427" y="744" width="2" height="1" fill="#000"/><rect x="427" y="745" width="2" height="1" fill="#000"/><rect x="426" y="746" width="2" height="1" fill="#000"/><rect x="426" y="747" width="2" height="1" fill="#000"/><rect x="425" y="748" width="2" height="1" fill="#000"/><rect x="425" y="749" width="2" height="1" fill="#000"/><rect x="425" y="750" width="2" height="1" fill="#000"/><rect x="424" y="751" width="2" height="1" fill="#000"/><rect x="434" y="739" width="7" height="1" fill="#000"/><rect x="434" y="740" width="8" height="1" fill="#000"/><rect x="433" y="741" width="3" height="1" fill="#000"/><rect x="433" y="742" width="2" height="1" fill="#000"/><rect x="433" y="743" width="2" height="1" fill="#000"/><rect x="433" y="744" width="7" height="1" fill="#000"/><rect x="433" y="745" width="2" height="1" fill="#000"/><rect x="439" y="745" width="2" height="1" fill="#000"/><rect x="440" y="746" width="2" height="1" fill="#000"/><rect x="440" y="747" width="2" height="1" fill="#000"/><rect x="440" y="748" width="2" height="1" fill="#000"/><rect x="433" y="749" width="2" height="1" fill="#000"/><rect x="440" y="749" width="2" height="1" fill="#000"/><rect x="433" y="750" width="3" height="1" fill="#000"/><rect x="439" y="750" width="2" height="1" fill="#000"/><rect x="434" y="751" width="5" height="1" fill="#000"/><rect x="482" y="739" width="2" height="1" fill="#000"/><rect x="482" y="740" width="2" height="1" fill="#000"/><rect x="479" y="741" width="5" height="1" fill="#000"/><rect x="479" y="742" width="5" height="1" fill="#000"/><rect x="482" y="743" width="2" height="1" fill="#000"/><rect x="482" y="744" width="2" height="1" fill="#000"/><rect x="482" y="745" width="2" height="1" fill="#000"/><rect x="482" y="746" width="2" height="1" fill="#000"/><rect x="482" y="747" width="2" height="1" fill="#000"/><rect x="482" y="748" width="2" height="1" fill="#000"/><rect x="482" y="749" width="2" height="1" fill="#000"/><rect x="482" y="750" width="2" height="1" fill="#000"/><rect x="482" y="751" width="2" height="1" fill="#000"/><rect x="489" y="750" width="2" height="1" fill="#000"/><rect x="489" y="751" width="2" height="1" fill="#000"/><rect x="493" y="739" width="9" height="1" fill="#000"/><rect x="492" y="740" width="9" height="1" fill="#000"/><rect x="499" y="741" width="2" height="1" fill="#000"/><rect x="498" y="742" width="2" height="1" fill="#000"/><rect x="498" y="743" width="2" height="1" fill="#000"/><rect x="497" y="744" width="2" height="1" fill="#000"/><rect x="497" y="745" width="2" height="1" fill="#000"/><rect x="496" y="746" width="2" height="1" fill="#000"/><rect x="496" y="747" width="2" height="1" fill="#000"/><rect x="495" y="748" width="2" height="1" fill="#000"/><rect x="495" y="749" width="2" height="1" fill="#000"/><rect x="495" y="750" width="2" height="1" fill="#000"/><rect x="494" y="751" width="2" height="1" fill="#000"/><rect x="505" y="739" width="4" height="1" fill="#000"/><rect x="504" y="740" width="2" height="1" fill="#000"/><rect x="508" y="740" width="2" height="1" fill="#000"/><rect x="503" y="741" width="3" height="1" fill="#000"/><rect x="509" y="741" width="2" height="1" fill="#000"/><rect x="503" y="742" width="2" height="1" fill="#000"/><rect x="509" y="742" width="2" height="1" fill="#000"/><rect x="503" y="743" width="2" height="1" fill="#000"/><rect x="503" y="744" width="2" height="1" fill="#000"/><rect x="506" y="744" width="4" height="1" fill="#000"/><rect x="503" y="745" width="3" height="1" fill="#000"/><rect x="509" y="745" width="2" height="1" fill="#000"/><rect x="503" y="746" width="2" height="1" fill="#000"/><rect x="510" y="746" width="2" height="1" fill="#000"/><rect x="503" y="747" width="2" height="1" fill="#000"/><rect x="510" y="747" width="2" height="1" fill="#000"/><rect x="503" y="748" width="2" height="1" fill="#000"/><rect x="510" y="748" width="2" height="1" fill="#000"/><rect x="503" y="749" width="2" height="1" fill="#000"/><rect x="510" y="749" width="2" height="1" fill="#000"/><rect x="504" y="750" width="2" height="1" fill="#000"/><rect x="509" y="750" width="2" height="1" fill="#000"/><rect x="505" y="751" width="5" height="1" fill="#000"/><rect x="552" y="739" width="2" height="1" fill="#000"/><rect x="552" y="740" width="2" height="1" fill="#000"/><rect x="549" y="741" width="5" height="1" fill="#000"/><rect x="549" y="742" width="5" height="1" fill="#000"/><rect x="552" y="743" width="2" height="1" fill="#000"/><rect x="552" y="744" width="2" height="1" fill="#000"/><rect x="552" y="745" width="2" height="1" fill="#000"/><rect x="552" y="746" width="2" height="1" fill="#000"/><rect x="552" y="747" width="2" height="1" fill="#000"/><rect x="552" y="748" width="2" height="1" fill="#000"/><rect x="552" y="749" width="2" height="1" fill="#000"/><rect x="552" y="750" width="2" height="1" fill="#000"/><rect x="552" y="751" width="2" height="1" fill="#000"/><rect x="560" y="750" width="2" height="1" fill="#000"/><rect x="560" y="751" width="2" height="1" fill="#000"/><rect x="564" y="739" width="9" height="1" fill="#000"/><rect x="563" y="740" width="9" height="1" fill="#000"/><rect x="570" y="741" width="2" height="1" fill="#000"/><rect x="569" y="742" width="2" height="1" fill="#000"/><rect x="569" y="743" width="2" height="1" fill="#000"/><rect x="568" y="744" width="2" height="1" fill="#000"/><rect x="568" y="745" width="2" height="1" fill="#000"/><rect x="567" y="746" width="2" height="1" fill="#000"/><rect x="567" y="747" width="2" height="1" fill="#000"/><rect x="566" y="748" width="2" height="1" fill="#000"/><rect x="566" y="749" width="2" height="1" fill="#000"/><rect x="566" y="750" width="2" height="1" fill="#000"/><rect x="565" y="751" width="2" height="1" fill="#000"/><rect x="574" y="739" width="9" height="1" fill="#000"/><rect x="573" y="740" width="9" height="1" fill="#000"/><rect x="580" y="741" width="2" height="1" fill="#000"/><rect x="579" y="742" width="2" height="1" fill="#000"/><rect x="579" y="743" width="2" height="1" fill="#000"/><rect x="578" y="744" width="2" height="1" fill="#000"/><rect x="578" y="745" width="2" height="1" fill="#000"/><rect x="577" y="746" width="2" height="1" fill="#000"/><rect x="577" y="747" width="2" height="1" fill="#000"/><rect x="576" y="748" width="2" height="1" fill="#000"/><rect x="576" y="749" width="2" height="1" fill="#000"/><rect x="576" y="750" width="2" height="1" fill="#000"/><rect x="575" y="751" width="2" height="1" fill="#000"/><rect x="623" y="739" width="2" height="1" fill="#000"/><rect x="623" y="740" width="2" height="1" fill="#000"/><rect x="620" y="741" width="5" height="1" fill="#000"/><rect x="620" y="742" width="5" height="1" fill="#000"/><rect x="623" y="743" width="2" height="1" fill="#000"/><rect x="623" y="744" width="2" height="1" fill="#000"/><rect x="623" y="745" width="2" height="1" fill="#000"/><rect x="623" y="746" width="2" height="1" fill="#000"/><rect x="623" y="747" width="2" height="1" fill="#000"/><rect x="623" y="748" width="2" height="1" fill="#000"/><rect x="623" y="749" width="2" height="1" fill="#000"/><rect x="623" y="750" width="2" height="1" fill="#000"/><rect x="623" y="751" width="2" height="1" fill="#000"/><rect x="630" y="750" width="2" height="1" fill="#000"/><rect x="630" y="751" width="2" height="1" fill="#000"/><rect x="634" y="739" width="9" height="1" fill="#000"/><rect x="633" y="740" width="9" height="1" fill="#000"/><rect x="640" y="741" width="2" height="1" fill="#000"/><rect x="639" y="742" width="2" height="1" fill="#000"/><rect x="639" y="743" width="2" height="1" fill="#000"/><rect x="638" y="744" width="2" height="1" fill="#000"/><rect x="638" y="745" width="2" height="1" fill="#000"/><rect x="637" y="746" width="2" height="1" fill="#000"/><rect x="637" y="747" width="2" height="1" fill="#000"/><rect x="636" y="748" width="2" height="1" fill="#000"/><rect x="636" y="749" width="2" height="1" fill="#000"/><rect x="636" y="750" width="2" height="1" fill="#000"/><rect x="635" y="751" width="2" height="1" fill="#000"/><rect x="646" y="739" width="4" height="1" fill="#000"/><rect x="645" y="740" width="2" height="1" fill="#000"/><rect x="649" y="740" width="2" height="1" fill="#000"/><rect x="644" y="741" width="2" height="1" fill="#000"/><rect x="650" y="741" width="2" height="1" fill="#000"/><rect x="644" y="742" width="2" height="1" fill="#000"/><rect x="650" y="742" width="2" height="1" fill="#000"/><rect x="644" y="743" width="2" height="1" fill="#000"/><rect x="650" y="743" width="2" height="1" fill="#000"/><rect x="645" y="744" width="2" height="1" fill="#000"/><rect x="649" y="744" width="2" height="1" fill="#000"/><rect x="645" y="745" width="6" height="1" fill="#000"/><rect x="644" y="746" width="3" height="1" fill="#000"/><rect x="650" y="746" width="2" height="1" fill="#000"/><rect x="644" y="747" width="2" height="1" fill="#000"/><rect x="651" y="747" width="2" height="1" fill="#000"/><rect x="644" y="748" width="2" height="1" fill="#000"/><rect x="651" y="748" width="2" height="1" fill="#000"/><rect x="644" y="749" width="2" height="1" fill="#000"/><rect x="651" y="749" width="2" height="1" fill="#000"/><rect x="645" y="750" width="2" height="1" fill="#000"/><rect x="650" y="750" width="2" height="1" fill="#000"/><rect x="646" y="751" width="5" height="1" fill="#000"/><rect x="693" y="739" width="2" height="1" fill="#000"/><rect x="693" y="740" width="2" height="1" fill="#000"/><rect x="690" y="741" width="5" height="1" fill="#000"/><rect x="690" y="742" width="5" height="1" fill="#000"/><rect x="693" y="743" width="2" height="1" fill="#000"/><rect x="693" y="744" width="2" height="1" fill="#000"/><rect x="693" y="745" width="2" height="1" fill="#000"/><rect x="693" y="746" width="2" height="1" fill="#000"/><rect x="693" y="747" width="2" height="1" fill="#000"/><rect x="693" y="748" width="2" height="1" fill="#000"/><rect x="693" y="749" width="2" height="1" fill="#000"/><rect x="693" y="750" width="2" height="1" fill="#000"/><rect x="693" y="751" width="2" height="1" fill="#000"/><rect x="701" y="750" width="2" height="1" fill="#000"/><rect x="701" y="751" width="2" height="1" fill="#000"/><rect x="705" y="739" width="9" height="1" fill="#000"/><rect x="704" y="740" width="9" height="1" fill="#000"/><rect x="711" y="741" width="2" height="1" fill="#000"/><rect x="710" y="742" width="2" height="1" fill="#000"/><rect x="710" y="743" width="2" height="1" fill="#000"/><rect x="709" y="744" width="2" height="1" fill="#000"/><rect x="709" y="745" width="2" height="1" fill="#000"/><rect x="708" y="746" width="2" height="1" fill="#000"/><rect x="708" y="747" width="2" height="1" fill="#000"/><rect x="707" y="748" width="2" height="1" fill="#000"/><rect x="707" y="749" width="2" height="1" fill="#000"/><rect x="707" y="750" width="2" height="1" fill="#000"/><rect x="706" y="751" width="2" height="1" fill="#000"/><rect x="717" y="739" width="4" height="1" fill="#000"/><rect x="716" y="740" width="2" height="1" fill="#000"/><rect x="720" y="740" width="2" height="1" fill="#000"/><rect x="715" y="741" width="2" height="1" fill="#000"/><rect x="721" y="741" width="2" height="1" fill="#000"/><rect x="715" y="742" width="2" height="1" fill="#000"/><rect x="721" y="742" width="2" height="1" fill="#000"/><rect x="715" y="743" width="2" height="1" fill="#000"/><rect x="721" y="743" width="2" height="1" fill="#000"/><rect x="715" y="744" width="2" height="1" fill="#000"/><rect x="721" y="744" width="2" height="1" fill="#000"/><rect x="716" y="745" width="2" height="1" fill="#000"/><rect x="720" y="745" width="3" height="1" fill="#000"/><rect x="717" y="746" width="6" height="1" fill="#000"/><rect x="721" y="747" width="2" height="1" fill="#000"/><rect x="721" y="748" width="2" height="1" fill="#000"/><rect x="715" y="749" width="2" height="1" fill="#000"/><rect x="720" y="749" width="3" height="1" fill="#000"/><rect x="715" y="750" width="3" height="1" fill="#000"/><rect x="720" y="750" width="2" height="1" fill="#000"/><rect x="716" y="751" width="5" height="1" fill="#000"/><rect x="769" y="739" width="2" height="1" fill="#000"/><rect x="769" y="740" width="2" height="1" fill="#000"/><rect x="766" y="741" width="5" height="1" fill="#000"/><rect x="766" y="742" width="5" height="1" fill="#000"/><rect x="769" y="743" width="2" height="1" fill="#000"/><rect x="769" y="744" width="2" height="1" fill="#000"/><rect x="769" y="745" width="2" height="1" fill="#000"/><rect x="769" y="746" width="2" height="1" fill="#000"/><rect x="769" y="747" width="2" height="1" fill="#000"/><rect x="769" y="748" width="2" height="1" fill="#000"/><rect x="769" y="749" width="2" height="1" fill="#000"/><rect x="769" y="750" width="2" height="1" fill="#000"/><rect x="769" y="751" width="2" height="1" fill="#000"/><rect x="776" y="750" width="2" height="1" fill="#000"/><rect x="776" y="751" width="2" height="1" fill="#000"/><rect x="782" y="739" width="4" height="1" fill="#000"/><rect x="781" y="740" width="2" height="1" fill="#000"/><rect x="785" y="740" width="2" height="1" fill="#000"/><rect x="780" y="741" width="2" height="1" fill="#000"/><rect x="786" y="741" width="2" height="1" fill="#000"/><rect x="780" y="742" width="2" height="1" fill="#000"/><rect x="786" y="742" width="2" height="1" fill="#000"/><rect x="780" y="743" width="2" height="1" fill="#000"/><rect x="786" y="743" width="2" height="1" fill="#000"/><rect x="781" y="744" width="2" height="1" fill="#000"/><rect x="785" y="744" width="2" height="1" fill="#000"/><rect x="781" y="745" width="6" height="1" fill="#000"/><rect x="780" y="746" width="3" height="1" fill="#000"/><rect x="786" y="746" width="2" height="1" fill="#000"/><rect x="780" y="747" width="2" height="1" fill="#000"/><rect x="787" y="747" width="2" height="1" fill="#000"/><rect x="780" y="748" width="2" height="1" fill="#000"/><rect x="787" y="748" width="2" height="1" fill="#000"/><rect x="780" y="749" width="2" height="1" fill="#000"/><rect x="787" y="749" width="2" height="1" fill="#000"/><rect x="781" y="750" width="2" height="1" fill="#000"/><rect x="786" y="750" width="2" height="1" fill="#000"/><rect x="782" y="751" width="5" height="1" fill="#000"/>
</g>
<g filter="url(#bin2)"><text transform="matrix(0.8306 0 0 0.9703 340.91 777.71)" font-family="Liberation Serif, serif" font-style="italic" font-size="20" fill="#0000ff">W</text><text transform="matrix(1.0402 0 0 0.9356 354.38 777.81)" font-family="Liberation Serif, serif" font-style="italic" font-size="20" fill="#0000ff">a</text><text transform="matrix(1.1625 0 0 0.9599 365.68 777.81)" font-family="Liberation Serif, serif" font-style="italic" font-size="20" fill="#0000ff">v</text><text transform="matrix(1.1521 0 0 0.9356 377.29 777.82)" font-family="Liberation Serif, serif" font-style="italic" font-size="20" fill="#0000ff">e</text><text transform="matrix(1.7267 0 0 1.0089 386.16 778.00)" font-family="Liberation Serif, serif" font-style="italic" font-size="20" fill="#0000ff">l</text><text transform="matrix(1.1521 0 0 0.9356 395.29 777.82)" font-family="Liberation Serif, serif" font-style="italic" font-size="20" fill="#0000ff">e</text><text transform="matrix(1.1823 0 0 0.9550 406.16 778.00)" font-family="Liberation Serif, serif" font-style="italic" font-size="20" fill="#0000ff">n</text><text transform="matrix(1.0634 0 0 0.9508 417.99 777.95)" font-family="Liberation Serif, serif" font-style="italic" font-size="20" fill="#0000ff">g</text><text transform="matrix(1.5748 0 0 1.0475 429.62 777.79)" font-family="Liberation Serif, serif" font-style="italic" font-size="20" fill="#0000ff">t</text><text transform="matrix(1.3021 0 0 1.0089 438.06 778.00)" font-family="Liberation Serif, serif" font-style="italic" font-size="20" fill="#0000ff">h</text><text transform="matrix(1.1458 0 0 1.1029 461.19 778.30)" font-family="Liberation Serif, serif" font-style="italic" font-size="20" fill="#0000ff">(</text><text transform="matrix(1.4902 0 0 0.9660 468.03 777.87)" font-family="Liberation Serif, serif" font-style="italic" font-size="20" fill="#0000ff">μ</text><text transform="matrix(1.4362 0 0 0.9550 480.96 778.00)" font-family="Liberation Serif, serif" font-style="italic" font-size="20" fill="#0000ff">m</text><text transform="matrix(1.1442 0 0 1.0478 503.08 777.54)" font-family="Liberation Serif, serif" font-style="italic" font-size="20" fill="#0000ff">)</text>
<g transform="translate(19,480) rotate(-90)"><text transform="matrix(0.8006 0 0 0.9927 0.09 0.00)" font-family="Liberation Serif, serif" font-style="italic" font-size="20" fill="#0000ff">F</text><text transform="matrix(1.7267 0 0 0.9369 9.16 0.00)" font-family="Liberation Serif, serif" font-style="italic" font-size="20" fill="#0000ff">l</text><text transform="matrix(1.2074 0 0 0.9560 18.80 -0.22)" font-family="Liberation Serif, serif" font-style="italic" font-size="20" fill="#0000ff">u</text><text transform="matrix(1.3372 0 0 0.9804 31.33 0.00)" font-family="Liberation Serif, serif" font-style="italic" font-size="20" fill="#0000ff">x</text><text transform="matrix(0.8594 0 0 1.0478 53.40 0.54)" font-family="Liberation Serif, serif" font-style="italic" font-size="20" fill="#0000ff">(</text><text transform="matrix(0.8969 0 0 0.9846 60.98 0.00)" font-family="Liberation Serif, serif" font-style="italic" font-size="20" fill="#0000ff">A</text><text transform="matrix(1.4221 0 0 0.9550 70.85 0.00)" font-family="Liberation Serif, serif" font-style="italic" font-size="20" fill="#0000ff">r</text><text transform="matrix(1.1558 0 0 0.9238 82.14 -0.18)" font-family="Liberation Serif, serif" font-style="italic" font-size="20" fill="#0000ff">b</text><text transform="matrix(1.3028 0 0 0.9817 93.55 0.00)" font-family="Liberation Serif, serif" font-style="italic" font-size="20" fill="#0000ff">i</text><text transform="matrix(1.1811 0 0 1.1348 101.96 -0.22)" font-family="Liberation Serif, serif" font-style="italic" font-size="20" fill="#0000ff">t</text><text transform="matrix(1.4221 0 0 0.9550 108.85 0.00)" font-family="Liberation Serif, serif" font-style="italic" font-size="20" fill="#0000ff">r</text><text transform="matrix(1.1558 0 0 0.9356 120.31 -0.19)" font-family="Liberation Serif, serif" font-style="italic" font-size="20" fill="#0000ff">a</text><text transform="matrix(1.1377 0 0 0.9550 131.08 0.00)" font-family="Liberation Serif, serif" font-style="italic" font-size="20" fill="#0000ff">r</text><text transform="matrix(1.3263 0 0 1.0373 142.21 0.52)" font-family="Liberation Serif, serif" font-style="italic" font-size="20" fill="#0000ff">y</text><text transform="matrix(0.9495 0 0 0.9780 162.26 -0.19)" font-family="Liberation Serif, serif" font-style="italic" font-size="20" fill="#0000ff">U</text><text transform="matrix(1.3005 0 0 0.9550 176.07 0.00)" font-family="Liberation Serif, serif" font-style="italic" font-size="20" fill="#0000ff">n</text><text transform="matrix(1.8239 0 0 0.9817 185.97 0.00)" font-family="Liberation Serif, serif" font-style="italic" font-size="20" fill="#0000ff">i</text><text transform="matrix(1.1811 0 0 1.1348 195.96 -0.22)" font-family="Liberation Serif, serif" font-style="italic" font-size="20" fill="#0000ff">t</text><text transform="matrix(1.0011 0 0 1.1029 204.95 0.30)" font-family="Liberation Serif, serif" font-style="italic" font-size="20" fill="#0000ff">)</text></g></g>
</svg>
</body></html>
